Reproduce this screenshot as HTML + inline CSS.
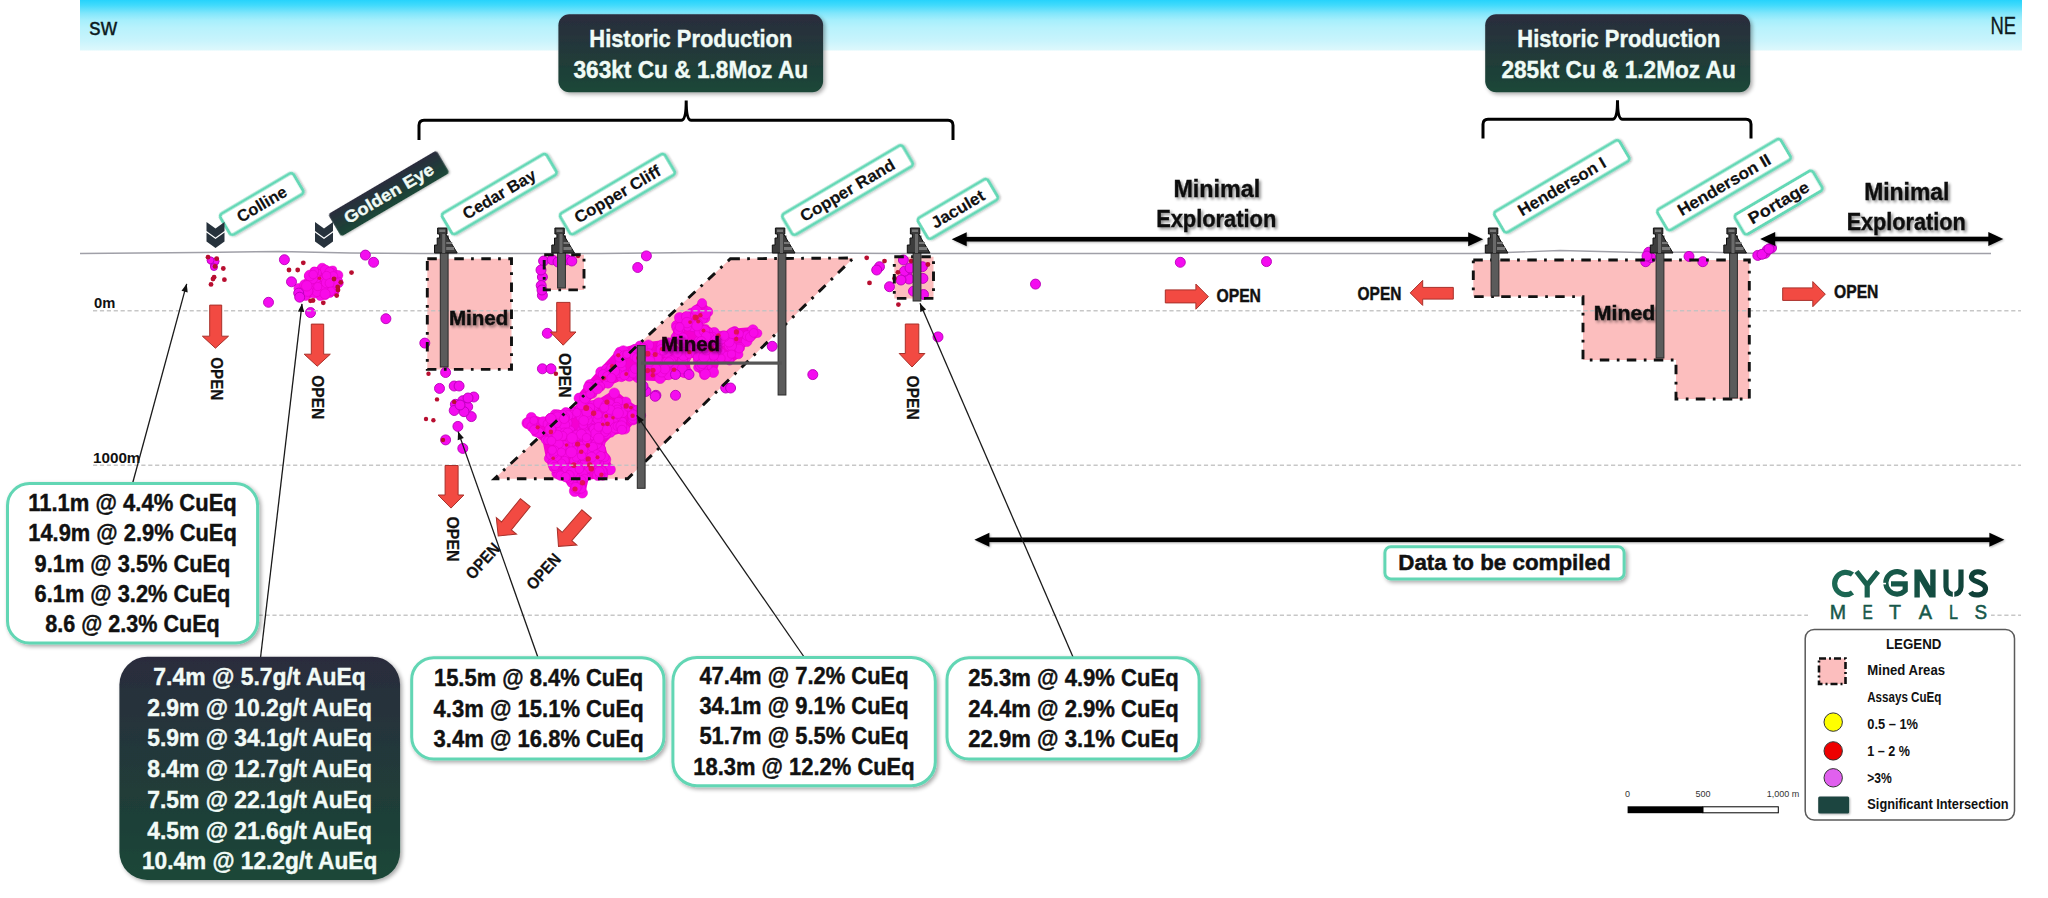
<!DOCTYPE html><html><head><meta charset="utf-8"><style>html,body{margin:0;padding:0;background:#fff;}svg{display:block;}text{font-family:"Liberation Sans",sans-serif;}</style></head><body>
<svg width="2048" height="898" viewBox="0 0 2048 898">
<defs>
<linearGradient id="sky" x1="0" y1="0" x2="0" y2="1">
 <stop offset="0" stop-color="#26d3fc"/><stop offset="0.1" stop-color="#40dafc"/><stop offset="0.26" stop-color="#80e6fb"/><stop offset="0.4" stop-color="#a6effc"/><stop offset="0.55" stop-color="#b8f2fc"/><stop offset="0.8" stop-color="#c8f4fc"/><stop offset="1" stop-color="#def8fc"/>
</linearGradient>
<linearGradient id="dark" x1="0" y1="0" x2="0" y2="1">
 <stop offset="0" stop-color="#2a2c3c"/><stop offset="1" stop-color="#1a4737"/>
</linearGradient>
<filter id="shadow" x="-10%" y="-10%" width="130%" height="140%">
 <feGaussianBlur in="SourceAlpha" stdDeviation="2"/><feOffset dx="1.5" dy="2" result="b"/>
 <feComponentTransfer><feFuncA type="linear" slope="0.35"/></feComponentTransfer>
 <feMerge><feMergeNode/><feMergeNode in="SourceGraphic"/></feMerge>
</filter>
<filter id="tshadow" x="-10%" y="-20%" width="130%" height="160%">
 <feGaussianBlur in="SourceAlpha" stdDeviation="1.5"/><feOffset dx="2" dy="2" result="b"/>
 <feComponentTransfer><feFuncA type="linear" slope="0.45"/></feComponentTransfer>
 <feMerge><feMergeNode/><feMergeNode in="SourceGraphic"/></feMerge>
</filter>
<filter id="glow" x="-20%" y="-40%" width="140%" height="180%">
 <feGaussianBlur in="SourceAlpha" stdDeviation="1.2"/><feOffset dx="0.5" dy="1" result="b"/>
 <feComponentTransfer><feFuncA type="linear" slope="0.3"/></feComponentTransfer>
 <feMerge><feMergeNode/><feMergeNode in="SourceGraphic"/></feMerge>
</filter>
</defs>
<rect x="80" y="0" width="1942" height="50.5" fill="url(#sky)"/>
<text x="103.2" y="34.8" font-size="23.48" font-weight="normal" fill="#0d1b22" text-anchor="middle" textLength="27.7" lengthAdjust="spacingAndGlyphs" stroke="#0d1b22" stroke-width="0.3">sw</text>
<text x="2003.3" y="34.4" font-size="23.26" font-weight="normal" fill="#0d1b22" text-anchor="middle" textLength="25.7" lengthAdjust="spacingAndGlyphs" stroke="#0d1b22" stroke-width="0.3">NE</text>
<rect x="558.4" y="14.2" width="264.7" height="78" rx="11" fill="url(#dark)" filter="url(#shadow)"/>
<text x="690.8" y="47.1" font-size="23.55" font-weight="bold" fill="#f0fbf6" text-anchor="middle" textLength="202.9" lengthAdjust="spacingAndGlyphs" stroke="#f0fbf6" stroke-width="0.4">Historic Production</text>
<text x="690.8" y="78.2" font-size="23.98" font-weight="bold" fill="#f0fbf6" text-anchor="middle" textLength="234.7" lengthAdjust="spacingAndGlyphs" stroke="#f0fbf6" stroke-width="0.4">363kt Cu &amp; 1.8Moz Au</text>
<rect x="1485.2" y="14.2" width="265.1" height="78" rx="11" fill="url(#dark)" filter="url(#shadow)"/>
<text x="1618.8" y="47.1" font-size="23.55" font-weight="bold" fill="#f0fbf6" text-anchor="middle" textLength="202.9" lengthAdjust="spacingAndGlyphs" stroke="#f0fbf6" stroke-width="0.4">Historic Production</text>
<text x="1618.6" y="78.2" font-size="23.98" font-weight="bold" fill="#f0fbf6" text-anchor="middle" textLength="234.3" lengthAdjust="spacingAndGlyphs" stroke="#f0fbf6" stroke-width="0.4">285kt Cu &amp; 1.2Moz Au</text>
<path d="M419,140 L419,125.3 Q419,120.3 424,120.3 L681.2,120.3 Q686.2,120.3 686.2,100.5 Q686.2,120.3 691.2,120.3 L948,120.3 Q953,120.3 953,125.3 L953,140" fill="none" stroke="#000" stroke-width="3"/>
<path d="M1483,138.5 L1483,124.3 Q1483,119.3 1488,119.3 L1612.5,119.3 Q1617.5,119.3 1617.5,100.3 Q1617.5,119.3 1622.5,119.3 L1746,119.3 Q1751,119.3 1751,124.3 L1751,138.5" fill="none" stroke="#000" stroke-width="3"/>
<text x="104.7" y="307.6" font-size="13.95" font-weight="bold" fill="#111" text-anchor="middle" textLength="21.3" lengthAdjust="spacingAndGlyphs" >0m</text>
<text x="116.7" y="463.0" font-size="14.53" font-weight="bold" fill="#111" text-anchor="middle" textLength="47.4" lengthAdjust="spacingAndGlyphs" >1000m</text>
<polyline points="80,253.5 200,252.5 280,251.5 350,253 420,253.5 600,253.5 700,252.5 900,253.5 1000,253.5 1400,253.5 1480,253.5 1560,250.5 1640,252.5 1700,252 1760,253.5 1991,253.5" fill="none" stroke="#a0a0a8" stroke-width="1.4"/>
<polygon points="427.3,258.7 511.5,258.7 511.5,369.4 427.3,369.4" fill="#fcbebe"/>
<polygon points="544.2,254.8 584.0,254.8 584.0,289.9 544.2,289.9" fill="#fcbebe"/>
<polygon points="730.4,258.8 853.4,258.0 627.6,478.8 494.5,478.8" fill="#fcbebe"/>
<polygon points="894.3,256.7 933.5,256.7 933.5,298.4 894.3,298.4" fill="#fcbebe"/>
<polygon points="1473.3,260.0 1749.3,260.0 1749.3,399.0 1676.0,399.0 1676.0,360.0 1583.0,360.0 1583.0,296.6 1473.3,296.6" fill="#fcbebe"/>
<polygon points="308.8,276.3 314.1,271.3 322.2,268.2 332.7,270.1 338.1,275.2 338.8,283.1 335.0,291.6 325.1,294.9 320.4,296.4 314.4,293.4 305.6,296.4 300.3,293.3 298.5,288.2 304.8,284.8 308.6,281.1" fill="#f400d2" stroke="#f400d2" stroke-width="6" stroke-linejoin="round"/>
<polygon points="554.9,414.3 571.7,411.3 586.0,403.7 597.1,403.5 614.3,393.1 625.6,402.5 637.2,409.9 641.1,415.5 633.0,419.5 624.8,429.0 610.8,432.9 600.9,443.2 605.7,457.9 610.0,469.5 602.7,475.1 586.0,476.9 582.3,492.9 574.8,491.0 571.2,481.1 556.3,473.6 549.1,458.6 545.5,440.1 535.5,432.6 527.4,423.1 531.3,417.4 543.3,421.5" fill="#f400d2" stroke="#f400d2" stroke-width="6" stroke-linejoin="round"/>
<polygon points="579.1,398.2 589.8,384.8 601.0,372.1 619.6,351.7 640.0,346.1 668.8,342.4 686.1,357.1 688.0,372.1 660.1,378.3 638.0,377.3 621.5,377.0 600.6,386.3 581.3,404.8" fill="#f400d2" stroke="#f400d2" stroke-width="6" stroke-linejoin="round"/>
<polygon points="676.4,325.5 679.6,317.6 691.1,312.4 702.1,303.2 707.7,311.9 704.7,317.8 697.5,324.3 705.4,328.6 714.3,332.3 722.4,335.2 734.7,331.4 752.9,329.9 757.7,333.3 746.7,341.2 739.6,347.7 738.6,354.4 729.6,360.8 717.4,358.9 713.3,372.2 704.4,374.8 697.8,367.6 697.3,355.9 689.4,354.1 683.4,344.3 675.5,338.1" fill="#f400d2" stroke="#f400d2" stroke-width="6" stroke-linejoin="round"/>
<circle cx="308.8" cy="276.3" r="4.5" fill="#f80ae8" stroke="#de00c0" stroke-width="0.5"/>
<circle cx="314.1" cy="271.3" r="4.2" fill="#f80ae8" stroke="#de00c0" stroke-width="0.5"/>
<circle cx="322.2" cy="268.2" r="5.0" fill="#f80ae8" stroke="#de00c0" stroke-width="0.5"/>
<circle cx="332.7" cy="270.1" r="4.1" fill="#f80ae8" stroke="#de00c0" stroke-width="0.5"/>
<circle cx="338.1" cy="275.2" r="4.8" fill="#f80ae8" stroke="#de00c0" stroke-width="0.5"/>
<circle cx="338.8" cy="283.1" r="4.5" fill="#f80ae8" stroke="#de00c0" stroke-width="0.5"/>
<circle cx="335.0" cy="291.6" r="4.1" fill="#f80ae8" stroke="#de00c0" stroke-width="0.5"/>
<circle cx="325.1" cy="294.9" r="4.8" fill="#f80ae8" stroke="#de00c0" stroke-width="0.5"/>
<circle cx="320.4" cy="296.4" r="4.1" fill="#f80ae8" stroke="#de00c0" stroke-width="0.5"/>
<circle cx="314.4" cy="293.4" r="4.7" fill="#f80ae8" stroke="#de00c0" stroke-width="0.5"/>
<circle cx="305.6" cy="296.4" r="4.1" fill="#f80ae8" stroke="#de00c0" stroke-width="0.5"/>
<circle cx="300.3" cy="293.3" r="4.1" fill="#f80ae8" stroke="#de00c0" stroke-width="0.5"/>
<circle cx="298.5" cy="288.2" r="4.6" fill="#f80ae8" stroke="#de00c0" stroke-width="0.5"/>
<circle cx="304.8" cy="284.8" r="5.2" fill="#f80ae8" stroke="#de00c0" stroke-width="0.5"/>
<circle cx="308.6" cy="281.1" r="4.2" fill="#f80ae8" stroke="#de00c0" stroke-width="0.5"/>
<circle cx="307.5" cy="285.9" r="4.9" fill="#f80ae8" stroke="#de00c0" stroke-width="0.5"/>
<circle cx="300.4" cy="292.4" r="4.2" fill="#f80ae8" stroke="#de00c0" stroke-width="0.5"/>
<circle cx="331.4" cy="273.3" r="5.0" fill="#f80ae8" stroke="#de00c0" stroke-width="0.5"/>
<circle cx="313.5" cy="283.7" r="4.1" fill="#f80ae8" stroke="#de00c0" stroke-width="0.5"/>
<circle cx="306.8" cy="287.4" r="4.5" fill="#f80ae8" stroke="#de00c0" stroke-width="0.5"/>
<circle cx="322.1" cy="281.0" r="5.2" fill="#f80ae8" stroke="#de00c0" stroke-width="0.5"/>
<circle cx="326.7" cy="275.1" r="4.8" fill="#f80ae8" stroke="#de00c0" stroke-width="0.5"/>
<circle cx="333.8" cy="288.8" r="5.5" fill="#f80ae8" stroke="#de00c0" stroke-width="0.5"/>
<circle cx="329.0" cy="272.5" r="4.1" fill="#f80ae8" stroke="#de00c0" stroke-width="0.5"/>
<circle cx="325.4" cy="289.8" r="5.3" fill="#f80ae8" stroke="#de00c0" stroke-width="0.5"/>
<circle cx="311.2" cy="287.8" r="4.9" fill="#f80ae8" stroke="#de00c0" stroke-width="0.5"/>
<circle cx="316.9" cy="291.9" r="4.7" fill="#f80ae8" stroke="#de00c0" stroke-width="0.5"/>
<circle cx="325.3" cy="270.0" r="5.0" fill="#f80ae8" stroke="#de00c0" stroke-width="0.5"/>
<circle cx="310.0" cy="279.1" r="4.0" fill="#f80ae8" stroke="#de00c0" stroke-width="0.5"/>
<circle cx="317.1" cy="273.0" r="4.1" fill="#f80ae8" stroke="#de00c0" stroke-width="0.5"/>
<circle cx="329.5" cy="271.9" r="4.6" fill="#f80ae8" stroke="#de00c0" stroke-width="0.5"/>
<circle cx="316.6" cy="283.7" r="5.2" fill="#f80ae8" stroke="#de00c0" stroke-width="0.5"/>
<circle cx="333.3" cy="276.1" r="4.5" fill="#f80ae8" stroke="#de00c0" stroke-width="0.5"/>
<circle cx="318.1" cy="284.8" r="4.0" fill="#f80ae8" stroke="#de00c0" stroke-width="0.5"/>
<circle cx="315.4" cy="278.6" r="5.4" fill="#f80ae8" stroke="#de00c0" stroke-width="0.5"/>
<circle cx="326.3" cy="282.8" r="5.0" fill="#f80ae8" stroke="#de00c0" stroke-width="0.5"/>
<circle cx="329.9" cy="292.9" r="4.6" fill="#f80ae8" stroke="#de00c0" stroke-width="0.5"/>
<circle cx="314.6" cy="271.2" r="4.1" fill="#f80ae8" stroke="#de00c0" stroke-width="0.5"/>
<circle cx="333.7" cy="285.5" r="4.4" fill="#f80ae8" stroke="#de00c0" stroke-width="0.5"/>
<circle cx="312.5" cy="278.5" r="5.3" fill="#f80ae8" stroke="#de00c0" stroke-width="0.5"/>
<circle cx="338.5" cy="281.4" r="4.1" fill="#f80ae8" stroke="#de00c0" stroke-width="0.5"/>
<circle cx="309.2" cy="291.6" r="4.0" fill="#f80ae8" stroke="#de00c0" stroke-width="0.5"/>
<circle cx="336.8" cy="283.1" r="4.8" fill="#f80ae8" stroke="#de00c0" stroke-width="0.5"/>
<circle cx="326.6" cy="275.6" r="4.3" fill="#f80ae8" stroke="#de00c0" stroke-width="0.5"/>
<circle cx="329.6" cy="283.2" r="4.5" fill="#f80ae8" stroke="#de00c0" stroke-width="0.5"/>
<circle cx="307.5" cy="291.1" r="5.3" fill="#f80ae8" stroke="#de00c0" stroke-width="0.5"/>
<circle cx="331.0" cy="291.3" r="4.3" fill="#f80ae8" stroke="#de00c0" stroke-width="0.5"/>
<circle cx="309.8" cy="275.5" r="5.4" fill="#f80ae8" stroke="#de00c0" stroke-width="0.5"/>
<circle cx="313.2" cy="274.5" r="4.3" fill="#f80ae8" stroke="#de00c0" stroke-width="0.5"/>
<circle cx="306.8" cy="285.8" r="5.3" fill="#f80ae8" stroke="#de00c0" stroke-width="0.5"/>
<circle cx="317.8" cy="286.6" r="4.1" fill="#f80ae8" stroke="#de00c0" stroke-width="0.5"/>
<circle cx="325.1" cy="293.9" r="5.1" fill="#f80ae8" stroke="#de00c0" stroke-width="0.5"/>
<circle cx="554.9" cy="414.3" r="4.7" fill="#f80ae8" stroke="#de00c0" stroke-width="0.5"/>
<circle cx="571.7" cy="411.3" r="4.3" fill="#f80ae8" stroke="#de00c0" stroke-width="0.5"/>
<circle cx="586.0" cy="403.7" r="5.2" fill="#f80ae8" stroke="#de00c0" stroke-width="0.5"/>
<circle cx="597.1" cy="403.5" r="4.5" fill="#f80ae8" stroke="#de00c0" stroke-width="0.5"/>
<circle cx="614.3" cy="393.1" r="5.2" fill="#f80ae8" stroke="#de00c0" stroke-width="0.5"/>
<circle cx="625.6" cy="402.5" r="5.5" fill="#f80ae8" stroke="#de00c0" stroke-width="0.5"/>
<circle cx="637.2" cy="409.9" r="4.6" fill="#f80ae8" stroke="#de00c0" stroke-width="0.5"/>
<circle cx="641.1" cy="415.5" r="4.6" fill="#f80ae8" stroke="#de00c0" stroke-width="0.5"/>
<circle cx="633.0" cy="419.5" r="5.4" fill="#f80ae8" stroke="#de00c0" stroke-width="0.5"/>
<circle cx="624.8" cy="429.0" r="5.1" fill="#f80ae8" stroke="#de00c0" stroke-width="0.5"/>
<circle cx="610.8" cy="432.9" r="4.3" fill="#f80ae8" stroke="#de00c0" stroke-width="0.5"/>
<circle cx="600.9" cy="443.2" r="4.2" fill="#f80ae8" stroke="#de00c0" stroke-width="0.5"/>
<circle cx="605.7" cy="457.9" r="4.2" fill="#f80ae8" stroke="#de00c0" stroke-width="0.5"/>
<circle cx="610.0" cy="469.5" r="5.4" fill="#f80ae8" stroke="#de00c0" stroke-width="0.5"/>
<circle cx="602.7" cy="475.1" r="5.2" fill="#f80ae8" stroke="#de00c0" stroke-width="0.5"/>
<circle cx="586.0" cy="476.9" r="4.2" fill="#f80ae8" stroke="#de00c0" stroke-width="0.5"/>
<circle cx="582.3" cy="492.9" r="5.2" fill="#f80ae8" stroke="#de00c0" stroke-width="0.5"/>
<circle cx="574.8" cy="491.0" r="5.5" fill="#f80ae8" stroke="#de00c0" stroke-width="0.5"/>
<circle cx="571.2" cy="481.1" r="5.0" fill="#f80ae8" stroke="#de00c0" stroke-width="0.5"/>
<circle cx="556.3" cy="473.6" r="4.5" fill="#f80ae8" stroke="#de00c0" stroke-width="0.5"/>
<circle cx="549.1" cy="458.6" r="4.8" fill="#f80ae8" stroke="#de00c0" stroke-width="0.5"/>
<circle cx="545.5" cy="440.1" r="4.2" fill="#f80ae8" stroke="#de00c0" stroke-width="0.5"/>
<circle cx="535.5" cy="432.6" r="4.0" fill="#f80ae8" stroke="#de00c0" stroke-width="0.5"/>
<circle cx="527.4" cy="423.1" r="5.5" fill="#f80ae8" stroke="#de00c0" stroke-width="0.5"/>
<circle cx="531.3" cy="417.4" r="5.0" fill="#f80ae8" stroke="#de00c0" stroke-width="0.5"/>
<circle cx="543.3" cy="421.5" r="4.8" fill="#f80ae8" stroke="#de00c0" stroke-width="0.5"/>
<circle cx="551.4" cy="418.3" r="4.4" fill="#f80ae8" stroke="#de00c0" stroke-width="0.5"/>
<circle cx="594.0" cy="419.0" r="4.2" fill="#f80ae8" stroke="#de00c0" stroke-width="0.5"/>
<circle cx="579.5" cy="451.3" r="4.6" fill="#f80ae8" stroke="#de00c0" stroke-width="0.5"/>
<circle cx="618.2" cy="410.3" r="5.1" fill="#f80ae8" stroke="#de00c0" stroke-width="0.5"/>
<circle cx="590.6" cy="425.7" r="4.8" fill="#f80ae8" stroke="#de00c0" stroke-width="0.5"/>
<circle cx="616.5" cy="403.7" r="4.4" fill="#f80ae8" stroke="#de00c0" stroke-width="0.5"/>
<circle cx="558.9" cy="470.2" r="4.8" fill="#f80ae8" stroke="#de00c0" stroke-width="0.5"/>
<circle cx="577.8" cy="454.3" r="4.8" fill="#f80ae8" stroke="#de00c0" stroke-width="0.5"/>
<circle cx="588.0" cy="440.8" r="5.0" fill="#f80ae8" stroke="#de00c0" stroke-width="0.5"/>
<circle cx="556.9" cy="449.0" r="5.3" fill="#f80ae8" stroke="#de00c0" stroke-width="0.5"/>
<circle cx="603.5" cy="471.4" r="4.2" fill="#f80ae8" stroke="#de00c0" stroke-width="0.5"/>
<circle cx="637.4" cy="415.1" r="4.6" fill="#f80ae8" stroke="#de00c0" stroke-width="0.5"/>
<circle cx="622.0" cy="409.3" r="4.8" fill="#f80ae8" stroke="#de00c0" stroke-width="0.5"/>
<circle cx="565.9" cy="412.7" r="5.1" fill="#f80ae8" stroke="#de00c0" stroke-width="0.5"/>
<circle cx="565.1" cy="455.4" r="4.1" fill="#f80ae8" stroke="#de00c0" stroke-width="0.5"/>
<circle cx="615.9" cy="420.1" r="4.6" fill="#f80ae8" stroke="#de00c0" stroke-width="0.5"/>
<circle cx="618.5" cy="401.5" r="4.1" fill="#f80ae8" stroke="#de00c0" stroke-width="0.5"/>
<circle cx="565.9" cy="448.3" r="4.4" fill="#f80ae8" stroke="#de00c0" stroke-width="0.5"/>
<circle cx="550.3" cy="424.3" r="5.1" fill="#f80ae8" stroke="#de00c0" stroke-width="0.5"/>
<circle cx="560.3" cy="443.0" r="4.5" fill="#f80ae8" stroke="#de00c0" stroke-width="0.5"/>
<circle cx="590.0" cy="412.0" r="5.4" fill="#f80ae8" stroke="#de00c0" stroke-width="0.5"/>
<circle cx="576.5" cy="442.5" r="4.6" fill="#f80ae8" stroke="#de00c0" stroke-width="0.5"/>
<circle cx="585.0" cy="461.8" r="4.5" fill="#f80ae8" stroke="#de00c0" stroke-width="0.5"/>
<circle cx="599.7" cy="433.5" r="4.1" fill="#f80ae8" stroke="#de00c0" stroke-width="0.5"/>
<circle cx="611.6" cy="418.6" r="4.1" fill="#f80ae8" stroke="#de00c0" stroke-width="0.5"/>
<circle cx="603.6" cy="421.3" r="4.4" fill="#f80ae8" stroke="#de00c0" stroke-width="0.5"/>
<circle cx="579.6" cy="408.9" r="4.4" fill="#f80ae8" stroke="#de00c0" stroke-width="0.5"/>
<circle cx="589.6" cy="417.5" r="4.5" fill="#f80ae8" stroke="#de00c0" stroke-width="0.5"/>
<circle cx="570.8" cy="440.5" r="4.3" fill="#f80ae8" stroke="#de00c0" stroke-width="0.5"/>
<circle cx="529.9" cy="423.5" r="4.9" fill="#f80ae8" stroke="#de00c0" stroke-width="0.5"/>
<circle cx="587.5" cy="468.0" r="5.1" fill="#f80ae8" stroke="#de00c0" stroke-width="0.5"/>
<circle cx="598.7" cy="466.4" r="4.2" fill="#f80ae8" stroke="#de00c0" stroke-width="0.5"/>
<circle cx="586.9" cy="443.5" r="5.2" fill="#f80ae8" stroke="#de00c0" stroke-width="0.5"/>
<circle cx="598.7" cy="455.6" r="4.7" fill="#f80ae8" stroke="#de00c0" stroke-width="0.5"/>
<circle cx="557.6" cy="465.9" r="5.1" fill="#f80ae8" stroke="#de00c0" stroke-width="0.5"/>
<circle cx="570.9" cy="440.9" r="5.2" fill="#f80ae8" stroke="#de00c0" stroke-width="0.5"/>
<circle cx="556.3" cy="467.3" r="4.9" fill="#f80ae8" stroke="#de00c0" stroke-width="0.5"/>
<circle cx="557.9" cy="460.2" r="5.0" fill="#f80ae8" stroke="#de00c0" stroke-width="0.5"/>
<circle cx="560.4" cy="444.7" r="4.7" fill="#f80ae8" stroke="#de00c0" stroke-width="0.5"/>
<circle cx="579.6" cy="474.9" r="4.7" fill="#f80ae8" stroke="#de00c0" stroke-width="0.5"/>
<circle cx="557.9" cy="414.1" r="4.3" fill="#f80ae8" stroke="#de00c0" stroke-width="0.5"/>
<circle cx="593.5" cy="407.3" r="5.4" fill="#f80ae8" stroke="#de00c0" stroke-width="0.5"/>
<circle cx="607.3" cy="416.2" r="4.7" fill="#f80ae8" stroke="#de00c0" stroke-width="0.5"/>
<circle cx="583.3" cy="438.1" r="4.2" fill="#f80ae8" stroke="#de00c0" stroke-width="0.5"/>
<circle cx="566.5" cy="424.7" r="4.0" fill="#f80ae8" stroke="#de00c0" stroke-width="0.5"/>
<circle cx="560.3" cy="430.3" r="5.5" fill="#f80ae8" stroke="#de00c0" stroke-width="0.5"/>
<circle cx="594.4" cy="429.1" r="4.4" fill="#f80ae8" stroke="#de00c0" stroke-width="0.5"/>
<circle cx="622.3" cy="421.6" r="4.4" fill="#f80ae8" stroke="#de00c0" stroke-width="0.5"/>
<circle cx="557.6" cy="444.1" r="4.6" fill="#f80ae8" stroke="#de00c0" stroke-width="0.5"/>
<circle cx="578.6" cy="468.2" r="4.4" fill="#f80ae8" stroke="#de00c0" stroke-width="0.5"/>
<circle cx="566.5" cy="422.9" r="5.5" fill="#f80ae8" stroke="#de00c0" stroke-width="0.5"/>
<circle cx="557.0" cy="458.6" r="4.8" fill="#f80ae8" stroke="#de00c0" stroke-width="0.5"/>
<circle cx="556.8" cy="450.0" r="5.1" fill="#f80ae8" stroke="#de00c0" stroke-width="0.5"/>
<circle cx="574.3" cy="434.4" r="4.6" fill="#f80ae8" stroke="#de00c0" stroke-width="0.5"/>
<circle cx="551.9" cy="420.2" r="4.6" fill="#f80ae8" stroke="#de00c0" stroke-width="0.5"/>
<circle cx="578.1" cy="488.3" r="5.3" fill="#f80ae8" stroke="#de00c0" stroke-width="0.5"/>
<circle cx="616.3" cy="416.3" r="5.0" fill="#f80ae8" stroke="#de00c0" stroke-width="0.5"/>
<circle cx="556.0" cy="456.6" r="4.2" fill="#f80ae8" stroke="#de00c0" stroke-width="0.5"/>
<circle cx="593.6" cy="431.9" r="4.9" fill="#f80ae8" stroke="#de00c0" stroke-width="0.5"/>
<circle cx="528.6" cy="423.2" r="5.4" fill="#f80ae8" stroke="#de00c0" stroke-width="0.5"/>
<circle cx="581.4" cy="416.6" r="5.4" fill="#f80ae8" stroke="#de00c0" stroke-width="0.5"/>
<circle cx="604.1" cy="435.0" r="5.0" fill="#f80ae8" stroke="#de00c0" stroke-width="0.5"/>
<circle cx="575.2" cy="461.2" r="5.2" fill="#f80ae8" stroke="#de00c0" stroke-width="0.5"/>
<circle cx="562.8" cy="474.9" r="4.3" fill="#f80ae8" stroke="#de00c0" stroke-width="0.5"/>
<circle cx="613.8" cy="422.6" r="4.7" fill="#f80ae8" stroke="#de00c0" stroke-width="0.5"/>
<circle cx="574.8" cy="459.5" r="4.2" fill="#f80ae8" stroke="#de00c0" stroke-width="0.5"/>
<circle cx="572.1" cy="414.4" r="4.2" fill="#f80ae8" stroke="#de00c0" stroke-width="0.5"/>
<circle cx="572.1" cy="482.7" r="5.1" fill="#f80ae8" stroke="#de00c0" stroke-width="0.5"/>
<circle cx="570.4" cy="430.4" r="4.3" fill="#f80ae8" stroke="#de00c0" stroke-width="0.5"/>
<circle cx="551.0" cy="428.7" r="5.2" fill="#f80ae8" stroke="#de00c0" stroke-width="0.5"/>
<circle cx="581.2" cy="430.3" r="4.3" fill="#f80ae8" stroke="#de00c0" stroke-width="0.5"/>
<circle cx="556.6" cy="467.7" r="4.5" fill="#f80ae8" stroke="#de00c0" stroke-width="0.5"/>
<circle cx="597.5" cy="419.3" r="4.5" fill="#f80ae8" stroke="#de00c0" stroke-width="0.5"/>
<circle cx="581.4" cy="488.6" r="4.6" fill="#f80ae8" stroke="#de00c0" stroke-width="0.5"/>
<circle cx="555.9" cy="436.0" r="5.4" fill="#f80ae8" stroke="#de00c0" stroke-width="0.5"/>
<circle cx="564.6" cy="425.0" r="5.2" fill="#f80ae8" stroke="#de00c0" stroke-width="0.5"/>
<circle cx="590.2" cy="425.6" r="5.3" fill="#f80ae8" stroke="#de00c0" stroke-width="0.5"/>
<circle cx="584.0" cy="464.0" r="4.4" fill="#f80ae8" stroke="#de00c0" stroke-width="0.5"/>
<circle cx="574.8" cy="455.0" r="5.1" fill="#f80ae8" stroke="#de00c0" stroke-width="0.5"/>
<circle cx="560.8" cy="449.7" r="5.1" fill="#f80ae8" stroke="#de00c0" stroke-width="0.5"/>
<circle cx="550.0" cy="417.8" r="4.2" fill="#f80ae8" stroke="#de00c0" stroke-width="0.5"/>
<circle cx="564.5" cy="432.7" r="4.8" fill="#f80ae8" stroke="#de00c0" stroke-width="0.5"/>
<circle cx="569.7" cy="479.6" r="4.4" fill="#f80ae8" stroke="#de00c0" stroke-width="0.5"/>
<circle cx="597.9" cy="414.9" r="4.2" fill="#f80ae8" stroke="#de00c0" stroke-width="0.5"/>
<circle cx="550.6" cy="418.6" r="5.0" fill="#f80ae8" stroke="#de00c0" stroke-width="0.5"/>
<circle cx="564.6" cy="460.8" r="4.5" fill="#f80ae8" stroke="#de00c0" stroke-width="0.5"/>
<circle cx="538.9" cy="432.6" r="5.0" fill="#f80ae8" stroke="#de00c0" stroke-width="0.5"/>
<circle cx="606.4" cy="434.0" r="4.5" fill="#f80ae8" stroke="#de00c0" stroke-width="0.5"/>
<circle cx="591.8" cy="428.8" r="5.3" fill="#f80ae8" stroke="#de00c0" stroke-width="0.5"/>
<circle cx="590.1" cy="457.1" r="4.1" fill="#f80ae8" stroke="#de00c0" stroke-width="0.5"/>
<circle cx="598.1" cy="430.1" r="4.2" fill="#f80ae8" stroke="#de00c0" stroke-width="0.5"/>
<circle cx="559.6" cy="445.1" r="4.2" fill="#f80ae8" stroke="#de00c0" stroke-width="0.5"/>
<circle cx="583.1" cy="473.4" r="4.3" fill="#f80ae8" stroke="#de00c0" stroke-width="0.5"/>
<circle cx="597.9" cy="475.4" r="5.2" fill="#f80ae8" stroke="#de00c0" stroke-width="0.5"/>
<circle cx="552.6" cy="433.5" r="5.2" fill="#f80ae8" stroke="#de00c0" stroke-width="0.5"/>
<circle cx="572.8" cy="444.8" r="4.2" fill="#f80ae8" stroke="#de00c0" stroke-width="0.5"/>
<circle cx="555.5" cy="465.5" r="4.1" fill="#f80ae8" stroke="#de00c0" stroke-width="0.5"/>
<circle cx="589.9" cy="455.7" r="4.6" fill="#f80ae8" stroke="#de00c0" stroke-width="0.5"/>
<circle cx="593.6" cy="435.6" r="4.7" fill="#f80ae8" stroke="#de00c0" stroke-width="0.5"/>
<circle cx="597.7" cy="442.0" r="5.1" fill="#f80ae8" stroke="#de00c0" stroke-width="0.5"/>
<circle cx="547.8" cy="440.4" r="4.2" fill="#f80ae8" stroke="#de00c0" stroke-width="0.5"/>
<circle cx="620.0" cy="412.5" r="4.7" fill="#f80ae8" stroke="#de00c0" stroke-width="0.5"/>
<circle cx="567.3" cy="468.6" r="5.3" fill="#f80ae8" stroke="#de00c0" stroke-width="0.5"/>
<circle cx="558.6" cy="474.5" r="4.8" fill="#f80ae8" stroke="#de00c0" stroke-width="0.5"/>
<circle cx="632.0" cy="413.9" r="4.8" fill="#f80ae8" stroke="#de00c0" stroke-width="0.5"/>
<circle cx="629.2" cy="410.0" r="4.2" fill="#f80ae8" stroke="#de00c0" stroke-width="0.5"/>
<circle cx="587.7" cy="456.6" r="5.3" fill="#f80ae8" stroke="#de00c0" stroke-width="0.5"/>
<circle cx="590.5" cy="451.0" r="4.2" fill="#f80ae8" stroke="#de00c0" stroke-width="0.5"/>
<circle cx="572.2" cy="472.7" r="5.5" fill="#f80ae8" stroke="#de00c0" stroke-width="0.5"/>
<circle cx="593.0" cy="429.1" r="4.7" fill="#f80ae8" stroke="#de00c0" stroke-width="0.5"/>
<circle cx="556.2" cy="456.9" r="4.9" fill="#f80ae8" stroke="#de00c0" stroke-width="0.5"/>
<circle cx="576.5" cy="444.3" r="4.2" fill="#f80ae8" stroke="#de00c0" stroke-width="0.5"/>
<circle cx="568.0" cy="415.5" r="4.9" fill="#f80ae8" stroke="#de00c0" stroke-width="0.5"/>
<circle cx="550.6" cy="455.4" r="4.2" fill="#f80ae8" stroke="#de00c0" stroke-width="0.5"/>
<circle cx="633.8" cy="417.4" r="4.1" fill="#f80ae8" stroke="#de00c0" stroke-width="0.5"/>
<circle cx="600.7" cy="449.2" r="5.0" fill="#f80ae8" stroke="#de00c0" stroke-width="0.5"/>
<circle cx="577.8" cy="486.6" r="4.4" fill="#f80ae8" stroke="#de00c0" stroke-width="0.5"/>
<circle cx="587.8" cy="433.6" r="4.1" fill="#f80ae8" stroke="#de00c0" stroke-width="0.5"/>
<circle cx="596.5" cy="443.7" r="5.2" fill="#f80ae8" stroke="#de00c0" stroke-width="0.5"/>
<circle cx="547.2" cy="424.0" r="4.1" fill="#f80ae8" stroke="#de00c0" stroke-width="0.5"/>
<circle cx="580.3" cy="467.1" r="4.3" fill="#f80ae8" stroke="#de00c0" stroke-width="0.5"/>
<circle cx="531.8" cy="426.6" r="5.0" fill="#f80ae8" stroke="#de00c0" stroke-width="0.5"/>
<circle cx="557.6" cy="448.4" r="5.2" fill="#f80ae8" stroke="#de00c0" stroke-width="0.5"/>
<circle cx="586.9" cy="419.6" r="5.4" fill="#f80ae8" stroke="#de00c0" stroke-width="0.5"/>
<circle cx="554.2" cy="467.4" r="5.1" fill="#f80ae8" stroke="#de00c0" stroke-width="0.5"/>
<circle cx="564.7" cy="417.0" r="4.9" fill="#f80ae8" stroke="#de00c0" stroke-width="0.5"/>
<circle cx="606.1" cy="459.5" r="4.7" fill="#f80ae8" stroke="#de00c0" stroke-width="0.5"/>
<circle cx="562.4" cy="414.3" r="4.1" fill="#f80ae8" stroke="#de00c0" stroke-width="0.5"/>
<circle cx="599.4" cy="462.7" r="4.1" fill="#f80ae8" stroke="#de00c0" stroke-width="0.5"/>
<circle cx="594.5" cy="429.4" r="5.2" fill="#f80ae8" stroke="#de00c0" stroke-width="0.5"/>
<circle cx="550.7" cy="425.0" r="4.0" fill="#f80ae8" stroke="#de00c0" stroke-width="0.5"/>
<circle cx="556.6" cy="421.3" r="4.6" fill="#f80ae8" stroke="#de00c0" stroke-width="0.5"/>
<circle cx="584.6" cy="478.1" r="4.0" fill="#f80ae8" stroke="#de00c0" stroke-width="0.5"/>
<circle cx="574.3" cy="436.7" r="4.5" fill="#f80ae8" stroke="#de00c0" stroke-width="0.5"/>
<circle cx="583.2" cy="442.2" r="4.3" fill="#f80ae8" stroke="#de00c0" stroke-width="0.5"/>
<circle cx="583.6" cy="427.8" r="4.4" fill="#f80ae8" stroke="#de00c0" stroke-width="0.5"/>
<circle cx="551.8" cy="462.9" r="4.2" fill="#f80ae8" stroke="#de00c0" stroke-width="0.5"/>
<circle cx="567.8" cy="433.2" r="5.3" fill="#f80ae8" stroke="#de00c0" stroke-width="0.5"/>
<circle cx="584.4" cy="431.0" r="4.4" fill="#f80ae8" stroke="#de00c0" stroke-width="0.5"/>
<circle cx="579.8" cy="446.2" r="5.1" fill="#f80ae8" stroke="#de00c0" stroke-width="0.5"/>
<circle cx="600.9" cy="427.9" r="4.2" fill="#f80ae8" stroke="#de00c0" stroke-width="0.5"/>
<circle cx="611.7" cy="410.1" r="5.2" fill="#f80ae8" stroke="#de00c0" stroke-width="0.5"/>
<circle cx="593.2" cy="405.7" r="5.3" fill="#f80ae8" stroke="#de00c0" stroke-width="0.5"/>
<circle cx="561.7" cy="463.3" r="4.2" fill="#f80ae8" stroke="#de00c0" stroke-width="0.5"/>
<circle cx="564.5" cy="445.2" r="4.5" fill="#f80ae8" stroke="#de00c0" stroke-width="0.5"/>
<circle cx="610.2" cy="403.3" r="4.2" fill="#f80ae8" stroke="#de00c0" stroke-width="0.5"/>
<circle cx="576.8" cy="412.7" r="4.2" fill="#f80ae8" stroke="#de00c0" stroke-width="0.5"/>
<circle cx="584.3" cy="456.2" r="4.2" fill="#f80ae8" stroke="#de00c0" stroke-width="0.5"/>
<circle cx="596.0" cy="433.5" r="5.4" fill="#f80ae8" stroke="#de00c0" stroke-width="0.5"/>
<circle cx="576.3" cy="450.4" r="4.6" fill="#f80ae8" stroke="#de00c0" stroke-width="0.5"/>
<circle cx="553.4" cy="465.2" r="5.2" fill="#f80ae8" stroke="#de00c0" stroke-width="0.5"/>
<circle cx="604.6" cy="457.1" r="4.5" fill="#f80ae8" stroke="#de00c0" stroke-width="0.5"/>
<circle cx="598.8" cy="402.9" r="5.2" fill="#f80ae8" stroke="#de00c0" stroke-width="0.5"/>
<circle cx="555.8" cy="435.4" r="4.9" fill="#f80ae8" stroke="#de00c0" stroke-width="0.5"/>
<circle cx="573.9" cy="460.5" r="4.3" fill="#f80ae8" stroke="#de00c0" stroke-width="0.5"/>
<circle cx="601.8" cy="470.8" r="4.7" fill="#f80ae8" stroke="#de00c0" stroke-width="0.5"/>
<circle cx="589.2" cy="409.2" r="5.4" fill="#f80ae8" stroke="#de00c0" stroke-width="0.5"/>
<circle cx="592.7" cy="447.1" r="4.8" fill="#f80ae8" stroke="#de00c0" stroke-width="0.5"/>
<circle cx="586.7" cy="434.1" r="4.3" fill="#f80ae8" stroke="#de00c0" stroke-width="0.5"/>
<circle cx="605.2" cy="432.3" r="4.2" fill="#f80ae8" stroke="#de00c0" stroke-width="0.5"/>
<circle cx="533.8" cy="420.5" r="4.0" fill="#f80ae8" stroke="#de00c0" stroke-width="0.5"/>
<circle cx="575.0" cy="435.1" r="4.5" fill="#f80ae8" stroke="#de00c0" stroke-width="0.5"/>
<circle cx="557.5" cy="415.5" r="5.4" fill="#f80ae8" stroke="#de00c0" stroke-width="0.5"/>
<circle cx="587.3" cy="415.0" r="4.6" fill="#f80ae8" stroke="#de00c0" stroke-width="0.5"/>
<circle cx="599.5" cy="439.9" r="4.3" fill="#f80ae8" stroke="#de00c0" stroke-width="0.5"/>
<circle cx="600.0" cy="474.8" r="4.7" fill="#f80ae8" stroke="#de00c0" stroke-width="0.5"/>
<circle cx="560.8" cy="447.8" r="5.3" fill="#f80ae8" stroke="#de00c0" stroke-width="0.5"/>
<circle cx="567.7" cy="478.0" r="4.6" fill="#f80ae8" stroke="#de00c0" stroke-width="0.5"/>
<circle cx="556.2" cy="435.7" r="4.0" fill="#f80ae8" stroke="#de00c0" stroke-width="0.5"/>
<circle cx="609.4" cy="421.2" r="4.5" fill="#f80ae8" stroke="#de00c0" stroke-width="0.5"/>
<circle cx="581.9" cy="435.9" r="5.0" fill="#f80ae8" stroke="#de00c0" stroke-width="0.5"/>
<circle cx="616.5" cy="407.2" r="4.9" fill="#f80ae8" stroke="#de00c0" stroke-width="0.5"/>
<circle cx="615.6" cy="427.7" r="5.4" fill="#f80ae8" stroke="#de00c0" stroke-width="0.5"/>
<circle cx="617.4" cy="409.9" r="4.9" fill="#f80ae8" stroke="#de00c0" stroke-width="0.5"/>
<circle cx="622.7" cy="412.8" r="4.8" fill="#f80ae8" stroke="#de00c0" stroke-width="0.5"/>
<circle cx="557.5" cy="416.5" r="4.7" fill="#f80ae8" stroke="#de00c0" stroke-width="0.5"/>
<circle cx="584.0" cy="447.0" r="4.0" fill="#f80ae8" stroke="#de00c0" stroke-width="0.5"/>
<circle cx="591.3" cy="459.5" r="4.6" fill="#f80ae8" stroke="#de00c0" stroke-width="0.5"/>
<circle cx="596.7" cy="461.2" r="4.5" fill="#f80ae8" stroke="#de00c0" stroke-width="0.5"/>
<circle cx="598.5" cy="426.9" r="4.5" fill="#f80ae8" stroke="#de00c0" stroke-width="0.5"/>
<circle cx="581.3" cy="445.6" r="4.3" fill="#f80ae8" stroke="#de00c0" stroke-width="0.5"/>
<circle cx="576.9" cy="435.3" r="5.2" fill="#f80ae8" stroke="#de00c0" stroke-width="0.5"/>
<circle cx="560.7" cy="475.7" r="4.8" fill="#f80ae8" stroke="#de00c0" stroke-width="0.5"/>
<circle cx="558.3" cy="443.7" r="5.0" fill="#f80ae8" stroke="#de00c0" stroke-width="0.5"/>
<circle cx="617.4" cy="426.2" r="4.4" fill="#f80ae8" stroke="#de00c0" stroke-width="0.5"/>
<circle cx="594.0" cy="456.5" r="4.1" fill="#f80ae8" stroke="#de00c0" stroke-width="0.5"/>
<circle cx="596.6" cy="458.8" r="5.4" fill="#f80ae8" stroke="#de00c0" stroke-width="0.5"/>
<circle cx="596.9" cy="454.7" r="5.0" fill="#f80ae8" stroke="#de00c0" stroke-width="0.5"/>
<circle cx="595.2" cy="461.1" r="5.0" fill="#f80ae8" stroke="#de00c0" stroke-width="0.5"/>
<circle cx="579.4" cy="469.2" r="4.3" fill="#f80ae8" stroke="#de00c0" stroke-width="0.5"/>
<circle cx="569.3" cy="475.2" r="4.8" fill="#f80ae8" stroke="#de00c0" stroke-width="0.5"/>
<circle cx="556.7" cy="423.3" r="4.5" fill="#f80ae8" stroke="#de00c0" stroke-width="0.5"/>
<circle cx="576.3" cy="457.2" r="4.1" fill="#f80ae8" stroke="#de00c0" stroke-width="0.5"/>
<circle cx="571.4" cy="452.2" r="5.5" fill="#f80ae8" stroke="#de00c0" stroke-width="0.5"/>
<circle cx="581.4" cy="434.3" r="5.0" fill="#f80ae8" stroke="#de00c0" stroke-width="0.5"/>
<circle cx="605.1" cy="405.3" r="4.1" fill="#f80ae8" stroke="#de00c0" stroke-width="0.5"/>
<circle cx="554.9" cy="466.3" r="4.1" fill="#f80ae8" stroke="#de00c0" stroke-width="0.5"/>
<circle cx="633.4" cy="418.5" r="5.1" fill="#f80ae8" stroke="#de00c0" stroke-width="0.5"/>
<circle cx="610.3" cy="409.7" r="4.7" fill="#f80ae8" stroke="#de00c0" stroke-width="0.5"/>
<circle cx="534.2" cy="429.8" r="4.7" fill="#f80ae8" stroke="#de00c0" stroke-width="0.5"/>
<circle cx="604.3" cy="407.6" r="4.5" fill="#f80ae8" stroke="#de00c0" stroke-width="0.5"/>
<circle cx="600.7" cy="456.0" r="4.6" fill="#f80ae8" stroke="#de00c0" stroke-width="0.5"/>
<circle cx="621.4" cy="426.3" r="5.5" fill="#f80ae8" stroke="#de00c0" stroke-width="0.5"/>
<circle cx="562.5" cy="435.9" r="4.6" fill="#f80ae8" stroke="#de00c0" stroke-width="0.5"/>
<circle cx="557.3" cy="435.3" r="5.2" fill="#f80ae8" stroke="#de00c0" stroke-width="0.5"/>
<circle cx="618.0" cy="413.1" r="5.4" fill="#f80ae8" stroke="#de00c0" stroke-width="0.5"/>
<circle cx="554.0" cy="453.7" r="4.7" fill="#f80ae8" stroke="#de00c0" stroke-width="0.5"/>
<circle cx="550.9" cy="418.6" r="5.2" fill="#f80ae8" stroke="#de00c0" stroke-width="0.5"/>
<circle cx="553.9" cy="451.0" r="5.3" fill="#f80ae8" stroke="#de00c0" stroke-width="0.5"/>
<circle cx="586.7" cy="440.7" r="4.3" fill="#f80ae8" stroke="#de00c0" stroke-width="0.5"/>
<circle cx="607.1" cy="429.3" r="4.6" fill="#f80ae8" stroke="#de00c0" stroke-width="0.5"/>
<circle cx="599.3" cy="471.7" r="4.9" fill="#f80ae8" stroke="#de00c0" stroke-width="0.5"/>
<circle cx="582.7" cy="449.7" r="5.2" fill="#f80ae8" stroke="#de00c0" stroke-width="0.5"/>
<circle cx="575.8" cy="487.6" r="5.2" fill="#f80ae8" stroke="#de00c0" stroke-width="0.5"/>
<circle cx="591.6" cy="457.1" r="5.0" fill="#f80ae8" stroke="#de00c0" stroke-width="0.5"/>
<circle cx="572.1" cy="437.9" r="5.4" fill="#f80ae8" stroke="#de00c0" stroke-width="0.5"/>
<circle cx="561.4" cy="452.2" r="4.2" fill="#f80ae8" stroke="#de00c0" stroke-width="0.5"/>
<circle cx="564.2" cy="418.8" r="4.7" fill="#f80ae8" stroke="#de00c0" stroke-width="0.5"/>
<circle cx="632.8" cy="415.1" r="5.3" fill="#f80ae8" stroke="#de00c0" stroke-width="0.5"/>
<circle cx="628.4" cy="407.1" r="4.1" fill="#f80ae8" stroke="#de00c0" stroke-width="0.5"/>
<circle cx="598.8" cy="438.3" r="5.2" fill="#f80ae8" stroke="#de00c0" stroke-width="0.5"/>
<circle cx="581.7" cy="455.8" r="4.3" fill="#f80ae8" stroke="#de00c0" stroke-width="0.5"/>
<circle cx="590.3" cy="407.6" r="4.4" fill="#f80ae8" stroke="#de00c0" stroke-width="0.5"/>
<circle cx="583.2" cy="424.9" r="4.2" fill="#f80ae8" stroke="#de00c0" stroke-width="0.5"/>
<circle cx="551.4" cy="440.8" r="4.4" fill="#f80ae8" stroke="#de00c0" stroke-width="0.5"/>
<circle cx="550.3" cy="429.5" r="5.5" fill="#f80ae8" stroke="#de00c0" stroke-width="0.5"/>
<circle cx="587.2" cy="411.7" r="5.4" fill="#f80ae8" stroke="#de00c0" stroke-width="0.5"/>
<circle cx="552.2" cy="450.1" r="4.3" fill="#f80ae8" stroke="#de00c0" stroke-width="0.5"/>
<circle cx="583.7" cy="420.5" r="4.9" fill="#f80ae8" stroke="#de00c0" stroke-width="0.5"/>
<circle cx="565.5" cy="477.1" r="4.7" fill="#f80ae8" stroke="#de00c0" stroke-width="0.5"/>
<circle cx="581.6" cy="480.1" r="4.3" fill="#f80ae8" stroke="#de00c0" stroke-width="0.5"/>
<circle cx="621.9" cy="429.8" r="4.6" fill="#f80ae8" stroke="#de00c0" stroke-width="0.5"/>
<circle cx="586.5" cy="437.6" r="4.2" fill="#f80ae8" stroke="#de00c0" stroke-width="0.5"/>
<circle cx="579.1" cy="398.2" r="5.1" fill="#f80ae8" stroke="#de00c0" stroke-width="0.5"/>
<circle cx="589.8" cy="384.8" r="5.2" fill="#f80ae8" stroke="#de00c0" stroke-width="0.5"/>
<circle cx="601.0" cy="372.1" r="5.3" fill="#f80ae8" stroke="#de00c0" stroke-width="0.5"/>
<circle cx="619.6" cy="351.7" r="4.5" fill="#f80ae8" stroke="#de00c0" stroke-width="0.5"/>
<circle cx="640.0" cy="346.1" r="5.1" fill="#f80ae8" stroke="#de00c0" stroke-width="0.5"/>
<circle cx="668.8" cy="342.4" r="4.6" fill="#f80ae8" stroke="#de00c0" stroke-width="0.5"/>
<circle cx="686.1" cy="357.1" r="5.1" fill="#f80ae8" stroke="#de00c0" stroke-width="0.5"/>
<circle cx="688.0" cy="372.1" r="4.1" fill="#f80ae8" stroke="#de00c0" stroke-width="0.5"/>
<circle cx="660.1" cy="378.3" r="5.3" fill="#f80ae8" stroke="#de00c0" stroke-width="0.5"/>
<circle cx="638.0" cy="377.3" r="5.4" fill="#f80ae8" stroke="#de00c0" stroke-width="0.5"/>
<circle cx="621.5" cy="377.0" r="4.7" fill="#f80ae8" stroke="#de00c0" stroke-width="0.5"/>
<circle cx="600.6" cy="386.3" r="4.8" fill="#f80ae8" stroke="#de00c0" stroke-width="0.5"/>
<circle cx="581.3" cy="404.8" r="4.8" fill="#f80ae8" stroke="#de00c0" stroke-width="0.5"/>
<circle cx="684.5" cy="356.4" r="4.2" fill="#f80ae8" stroke="#de00c0" stroke-width="0.5"/>
<circle cx="641.9" cy="375.0" r="4.2" fill="#f80ae8" stroke="#de00c0" stroke-width="0.5"/>
<circle cx="632.8" cy="373.6" r="4.2" fill="#f80ae8" stroke="#de00c0" stroke-width="0.5"/>
<circle cx="623.3" cy="351.0" r="5.3" fill="#f80ae8" stroke="#de00c0" stroke-width="0.5"/>
<circle cx="660.4" cy="352.7" r="5.4" fill="#f80ae8" stroke="#de00c0" stroke-width="0.5"/>
<circle cx="621.4" cy="368.6" r="4.8" fill="#f80ae8" stroke="#de00c0" stroke-width="0.5"/>
<circle cx="663.7" cy="363.5" r="4.5" fill="#f80ae8" stroke="#de00c0" stroke-width="0.5"/>
<circle cx="606.2" cy="368.7" r="4.5" fill="#f80ae8" stroke="#de00c0" stroke-width="0.5"/>
<circle cx="649.0" cy="359.0" r="4.4" fill="#f80ae8" stroke="#de00c0" stroke-width="0.5"/>
<circle cx="646.7" cy="358.0" r="4.7" fill="#f80ae8" stroke="#de00c0" stroke-width="0.5"/>
<circle cx="682.6" cy="360.3" r="5.0" fill="#f80ae8" stroke="#de00c0" stroke-width="0.5"/>
<circle cx="608.3" cy="371.5" r="4.2" fill="#f80ae8" stroke="#de00c0" stroke-width="0.5"/>
<circle cx="611.0" cy="367.8" r="4.4" fill="#f80ae8" stroke="#de00c0" stroke-width="0.5"/>
<circle cx="629.3" cy="376.6" r="4.7" fill="#f80ae8" stroke="#de00c0" stroke-width="0.5"/>
<circle cx="603.2" cy="374.4" r="4.9" fill="#f80ae8" stroke="#de00c0" stroke-width="0.5"/>
<circle cx="673.0" cy="357.3" r="4.7" fill="#f80ae8" stroke="#de00c0" stroke-width="0.5"/>
<circle cx="668.5" cy="374.7" r="5.1" fill="#f80ae8" stroke="#de00c0" stroke-width="0.5"/>
<circle cx="661.8" cy="372.0" r="5.1" fill="#f80ae8" stroke="#de00c0" stroke-width="0.5"/>
<circle cx="641.4" cy="368.5" r="5.3" fill="#f80ae8" stroke="#de00c0" stroke-width="0.5"/>
<circle cx="645.2" cy="366.1" r="4.7" fill="#f80ae8" stroke="#de00c0" stroke-width="0.5"/>
<circle cx="657.8" cy="360.7" r="4.8" fill="#f80ae8" stroke="#de00c0" stroke-width="0.5"/>
<circle cx="620.9" cy="362.5" r="5.3" fill="#f80ae8" stroke="#de00c0" stroke-width="0.5"/>
<circle cx="633.5" cy="370.1" r="4.5" fill="#f80ae8" stroke="#de00c0" stroke-width="0.5"/>
<circle cx="642.4" cy="347.9" r="4.5" fill="#f80ae8" stroke="#de00c0" stroke-width="0.5"/>
<circle cx="683.5" cy="355.2" r="5.4" fill="#f80ae8" stroke="#de00c0" stroke-width="0.5"/>
<circle cx="640.6" cy="373.4" r="5.2" fill="#f80ae8" stroke="#de00c0" stroke-width="0.5"/>
<circle cx="635.4" cy="374.7" r="4.6" fill="#f80ae8" stroke="#de00c0" stroke-width="0.5"/>
<circle cx="684.1" cy="372.8" r="4.9" fill="#f80ae8" stroke="#de00c0" stroke-width="0.5"/>
<circle cx="634.9" cy="349.3" r="5.0" fill="#f80ae8" stroke="#de00c0" stroke-width="0.5"/>
<circle cx="675.8" cy="368.7" r="4.4" fill="#f80ae8" stroke="#de00c0" stroke-width="0.5"/>
<circle cx="634.8" cy="373.9" r="4.3" fill="#f80ae8" stroke="#de00c0" stroke-width="0.5"/>
<circle cx="648.4" cy="345.1" r="5.2" fill="#f80ae8" stroke="#de00c0" stroke-width="0.5"/>
<circle cx="651.8" cy="354.7" r="4.8" fill="#f80ae8" stroke="#de00c0" stroke-width="0.5"/>
<circle cx="608.0" cy="382.7" r="5.5" fill="#f80ae8" stroke="#de00c0" stroke-width="0.5"/>
<circle cx="641.6" cy="368.0" r="4.2" fill="#f80ae8" stroke="#de00c0" stroke-width="0.5"/>
<circle cx="663.0" cy="362.5" r="4.5" fill="#f80ae8" stroke="#de00c0" stroke-width="0.5"/>
<circle cx="642.5" cy="364.2" r="4.6" fill="#f80ae8" stroke="#de00c0" stroke-width="0.5"/>
<circle cx="585.0" cy="397.9" r="5.4" fill="#f80ae8" stroke="#de00c0" stroke-width="0.5"/>
<circle cx="667.9" cy="361.3" r="5.4" fill="#f80ae8" stroke="#de00c0" stroke-width="0.5"/>
<circle cx="657.3" cy="356.2" r="5.3" fill="#f80ae8" stroke="#de00c0" stroke-width="0.5"/>
<circle cx="618.1" cy="354.0" r="4.4" fill="#f80ae8" stroke="#de00c0" stroke-width="0.5"/>
<circle cx="640.2" cy="349.6" r="4.6" fill="#f80ae8" stroke="#de00c0" stroke-width="0.5"/>
<circle cx="592.5" cy="393.9" r="4.4" fill="#f80ae8" stroke="#de00c0" stroke-width="0.5"/>
<circle cx="651.4" cy="363.7" r="5.1" fill="#f80ae8" stroke="#de00c0" stroke-width="0.5"/>
<circle cx="670.0" cy="350.4" r="5.3" fill="#f80ae8" stroke="#de00c0" stroke-width="0.5"/>
<circle cx="666.8" cy="352.3" r="5.1" fill="#f80ae8" stroke="#de00c0" stroke-width="0.5"/>
<circle cx="634.1" cy="356.6" r="4.2" fill="#f80ae8" stroke="#de00c0" stroke-width="0.5"/>
<circle cx="656.0" cy="358.7" r="4.9" fill="#f80ae8" stroke="#de00c0" stroke-width="0.5"/>
<circle cx="619.2" cy="357.8" r="4.3" fill="#f80ae8" stroke="#de00c0" stroke-width="0.5"/>
<circle cx="674.1" cy="350.1" r="4.8" fill="#f80ae8" stroke="#de00c0" stroke-width="0.5"/>
<circle cx="640.9" cy="361.8" r="4.1" fill="#f80ae8" stroke="#de00c0" stroke-width="0.5"/>
<circle cx="618.4" cy="373.6" r="4.1" fill="#f80ae8" stroke="#de00c0" stroke-width="0.5"/>
<circle cx="592.8" cy="387.1" r="4.6" fill="#f80ae8" stroke="#de00c0" stroke-width="0.5"/>
<circle cx="651.4" cy="364.3" r="5.0" fill="#f80ae8" stroke="#de00c0" stroke-width="0.5"/>
<circle cx="655.2" cy="357.9" r="4.5" fill="#f80ae8" stroke="#de00c0" stroke-width="0.5"/>
<circle cx="648.6" cy="353.6" r="4.9" fill="#f80ae8" stroke="#de00c0" stroke-width="0.5"/>
<circle cx="657.1" cy="358.3" r="5.0" fill="#f80ae8" stroke="#de00c0" stroke-width="0.5"/>
<circle cx="591.2" cy="391.8" r="5.4" fill="#f80ae8" stroke="#de00c0" stroke-width="0.5"/>
<circle cx="660.7" cy="347.8" r="4.6" fill="#f80ae8" stroke="#de00c0" stroke-width="0.5"/>
<circle cx="682.2" cy="368.9" r="5.0" fill="#f80ae8" stroke="#de00c0" stroke-width="0.5"/>
<circle cx="625.7" cy="374.3" r="4.2" fill="#f80ae8" stroke="#de00c0" stroke-width="0.5"/>
<circle cx="662.1" cy="345.1" r="5.2" fill="#f80ae8" stroke="#de00c0" stroke-width="0.5"/>
<circle cx="607.5" cy="376.5" r="5.0" fill="#f80ae8" stroke="#de00c0" stroke-width="0.5"/>
<circle cx="623.9" cy="355.0" r="4.2" fill="#f80ae8" stroke="#de00c0" stroke-width="0.5"/>
<circle cx="635.2" cy="370.2" r="4.5" fill="#f80ae8" stroke="#de00c0" stroke-width="0.5"/>
<circle cx="597.5" cy="384.0" r="4.7" fill="#f80ae8" stroke="#de00c0" stroke-width="0.5"/>
<circle cx="600.5" cy="386.2" r="4.2" fill="#f80ae8" stroke="#de00c0" stroke-width="0.5"/>
<circle cx="614.4" cy="371.6" r="4.3" fill="#f80ae8" stroke="#de00c0" stroke-width="0.5"/>
<circle cx="588.2" cy="387.1" r="4.8" fill="#f80ae8" stroke="#de00c0" stroke-width="0.5"/>
<circle cx="626.4" cy="354.3" r="4.0" fill="#f80ae8" stroke="#de00c0" stroke-width="0.5"/>
<circle cx="650.2" cy="358.1" r="4.2" fill="#f80ae8" stroke="#de00c0" stroke-width="0.5"/>
<circle cx="670.5" cy="360.9" r="5.0" fill="#f80ae8" stroke="#de00c0" stroke-width="0.5"/>
<circle cx="669.0" cy="362.4" r="4.8" fill="#f80ae8" stroke="#de00c0" stroke-width="0.5"/>
<circle cx="632.9" cy="373.6" r="4.4" fill="#f80ae8" stroke="#de00c0" stroke-width="0.5"/>
<circle cx="642.4" cy="347.4" r="4.2" fill="#f80ae8" stroke="#de00c0" stroke-width="0.5"/>
<circle cx="626.9" cy="354.3" r="4.0" fill="#f80ae8" stroke="#de00c0" stroke-width="0.5"/>
<circle cx="664.8" cy="368.9" r="5.0" fill="#f80ae8" stroke="#de00c0" stroke-width="0.5"/>
<circle cx="635.1" cy="368.7" r="4.7" fill="#f80ae8" stroke="#de00c0" stroke-width="0.5"/>
<circle cx="677.5" cy="352.7" r="4.7" fill="#f80ae8" stroke="#de00c0" stroke-width="0.5"/>
<circle cx="640.4" cy="364.1" r="4.1" fill="#f80ae8" stroke="#de00c0" stroke-width="0.5"/>
<circle cx="614.3" cy="371.1" r="5.4" fill="#f80ae8" stroke="#de00c0" stroke-width="0.5"/>
<circle cx="667.4" cy="346.2" r="4.9" fill="#f80ae8" stroke="#de00c0" stroke-width="0.5"/>
<circle cx="611.4" cy="378.0" r="4.7" fill="#f80ae8" stroke="#de00c0" stroke-width="0.5"/>
<circle cx="649.6" cy="361.1" r="5.3" fill="#f80ae8" stroke="#de00c0" stroke-width="0.5"/>
<circle cx="624.4" cy="375.5" r="4.6" fill="#f80ae8" stroke="#de00c0" stroke-width="0.5"/>
<circle cx="636.9" cy="358.1" r="4.8" fill="#f80ae8" stroke="#de00c0" stroke-width="0.5"/>
<circle cx="643.2" cy="347.4" r="4.1" fill="#f80ae8" stroke="#de00c0" stroke-width="0.5"/>
<circle cx="661.5" cy="349.6" r="5.1" fill="#f80ae8" stroke="#de00c0" stroke-width="0.5"/>
<circle cx="590.2" cy="394.2" r="4.3" fill="#f80ae8" stroke="#de00c0" stroke-width="0.5"/>
<circle cx="663.5" cy="350.9" r="4.1" fill="#f80ae8" stroke="#de00c0" stroke-width="0.5"/>
<circle cx="656.1" cy="369.0" r="4.9" fill="#f80ae8" stroke="#de00c0" stroke-width="0.5"/>
<circle cx="597.4" cy="388.9" r="5.1" fill="#f80ae8" stroke="#de00c0" stroke-width="0.5"/>
<circle cx="676.4" cy="325.5" r="5.0" fill="#f80ae8" stroke="#de00c0" stroke-width="0.5"/>
<circle cx="679.6" cy="317.6" r="5.2" fill="#f80ae8" stroke="#de00c0" stroke-width="0.5"/>
<circle cx="691.1" cy="312.4" r="4.2" fill="#f80ae8" stroke="#de00c0" stroke-width="0.5"/>
<circle cx="702.1" cy="303.2" r="4.6" fill="#f80ae8" stroke="#de00c0" stroke-width="0.5"/>
<circle cx="707.7" cy="311.9" r="5.1" fill="#f80ae8" stroke="#de00c0" stroke-width="0.5"/>
<circle cx="704.7" cy="317.8" r="5.4" fill="#f80ae8" stroke="#de00c0" stroke-width="0.5"/>
<circle cx="697.5" cy="324.3" r="5.1" fill="#f80ae8" stroke="#de00c0" stroke-width="0.5"/>
<circle cx="705.4" cy="328.6" r="4.1" fill="#f80ae8" stroke="#de00c0" stroke-width="0.5"/>
<circle cx="714.3" cy="332.3" r="4.9" fill="#f80ae8" stroke="#de00c0" stroke-width="0.5"/>
<circle cx="722.4" cy="335.2" r="4.1" fill="#f80ae8" stroke="#de00c0" stroke-width="0.5"/>
<circle cx="734.7" cy="331.4" r="4.8" fill="#f80ae8" stroke="#de00c0" stroke-width="0.5"/>
<circle cx="752.9" cy="329.9" r="5.2" fill="#f80ae8" stroke="#de00c0" stroke-width="0.5"/>
<circle cx="757.7" cy="333.3" r="4.2" fill="#f80ae8" stroke="#de00c0" stroke-width="0.5"/>
<circle cx="746.7" cy="341.2" r="5.4" fill="#f80ae8" stroke="#de00c0" stroke-width="0.5"/>
<circle cx="739.6" cy="347.7" r="5.0" fill="#f80ae8" stroke="#de00c0" stroke-width="0.5"/>
<circle cx="738.6" cy="354.4" r="4.4" fill="#f80ae8" stroke="#de00c0" stroke-width="0.5"/>
<circle cx="729.6" cy="360.8" r="4.3" fill="#f80ae8" stroke="#de00c0" stroke-width="0.5"/>
<circle cx="717.4" cy="358.9" r="4.7" fill="#f80ae8" stroke="#de00c0" stroke-width="0.5"/>
<circle cx="713.3" cy="372.2" r="5.3" fill="#f80ae8" stroke="#de00c0" stroke-width="0.5"/>
<circle cx="704.4" cy="374.8" r="4.9" fill="#f80ae8" stroke="#de00c0" stroke-width="0.5"/>
<circle cx="697.8" cy="367.6" r="4.2" fill="#f80ae8" stroke="#de00c0" stroke-width="0.5"/>
<circle cx="697.3" cy="355.9" r="4.0" fill="#f80ae8" stroke="#de00c0" stroke-width="0.5"/>
<circle cx="689.4" cy="354.1" r="4.2" fill="#f80ae8" stroke="#de00c0" stroke-width="0.5"/>
<circle cx="683.4" cy="344.3" r="5.2" fill="#f80ae8" stroke="#de00c0" stroke-width="0.5"/>
<circle cx="675.5" cy="338.1" r="4.3" fill="#f80ae8" stroke="#de00c0" stroke-width="0.5"/>
<circle cx="719.8" cy="352.5" r="5.4" fill="#f80ae8" stroke="#de00c0" stroke-width="0.5"/>
<circle cx="676.6" cy="327.7" r="4.8" fill="#f80ae8" stroke="#de00c0" stroke-width="0.5"/>
<circle cx="707.8" cy="337.2" r="5.3" fill="#f80ae8" stroke="#de00c0" stroke-width="0.5"/>
<circle cx="707.8" cy="365.7" r="4.1" fill="#f80ae8" stroke="#de00c0" stroke-width="0.5"/>
<circle cx="702.6" cy="318.7" r="4.9" fill="#f80ae8" stroke="#de00c0" stroke-width="0.5"/>
<circle cx="705.2" cy="336.7" r="4.6" fill="#f80ae8" stroke="#de00c0" stroke-width="0.5"/>
<circle cx="677.2" cy="336.1" r="4.1" fill="#f80ae8" stroke="#de00c0" stroke-width="0.5"/>
<circle cx="697.9" cy="322.8" r="4.4" fill="#f80ae8" stroke="#de00c0" stroke-width="0.5"/>
<circle cx="722.3" cy="341.0" r="5.5" fill="#f80ae8" stroke="#de00c0" stroke-width="0.5"/>
<circle cx="739.2" cy="348.5" r="4.5" fill="#f80ae8" stroke="#de00c0" stroke-width="0.5"/>
<circle cx="698.7" cy="360.1" r="5.4" fill="#f80ae8" stroke="#de00c0" stroke-width="0.5"/>
<circle cx="717.3" cy="348.7" r="4.8" fill="#f80ae8" stroke="#de00c0" stroke-width="0.5"/>
<circle cx="694.8" cy="328.2" r="4.0" fill="#f80ae8" stroke="#de00c0" stroke-width="0.5"/>
<circle cx="747.1" cy="335.6" r="4.9" fill="#f80ae8" stroke="#de00c0" stroke-width="0.5"/>
<circle cx="700.9" cy="355.2" r="5.4" fill="#f80ae8" stroke="#de00c0" stroke-width="0.5"/>
<circle cx="703.5" cy="369.1" r="4.1" fill="#f80ae8" stroke="#de00c0" stroke-width="0.5"/>
<circle cx="690.2" cy="344.7" r="4.5" fill="#f80ae8" stroke="#de00c0" stroke-width="0.5"/>
<circle cx="739.2" cy="333.8" r="4.1" fill="#f80ae8" stroke="#de00c0" stroke-width="0.5"/>
<circle cx="697.5" cy="353.6" r="4.6" fill="#f80ae8" stroke="#de00c0" stroke-width="0.5"/>
<circle cx="692.0" cy="346.3" r="5.0" fill="#f80ae8" stroke="#de00c0" stroke-width="0.5"/>
<circle cx="686.7" cy="316.7" r="5.3" fill="#f80ae8" stroke="#de00c0" stroke-width="0.5"/>
<circle cx="692.9" cy="326.6" r="5.0" fill="#f80ae8" stroke="#de00c0" stroke-width="0.5"/>
<circle cx="708.8" cy="351.8" r="4.1" fill="#f80ae8" stroke="#de00c0" stroke-width="0.5"/>
<circle cx="716.1" cy="346.0" r="4.7" fill="#f80ae8" stroke="#de00c0" stroke-width="0.5"/>
<circle cx="710.3" cy="341.7" r="4.8" fill="#f80ae8" stroke="#de00c0" stroke-width="0.5"/>
<circle cx="729.6" cy="346.2" r="5.1" fill="#f80ae8" stroke="#de00c0" stroke-width="0.5"/>
<circle cx="696.7" cy="354.1" r="5.2" fill="#f80ae8" stroke="#de00c0" stroke-width="0.5"/>
<circle cx="700.9" cy="358.5" r="4.7" fill="#f80ae8" stroke="#de00c0" stroke-width="0.5"/>
<circle cx="698.4" cy="340.6" r="4.2" fill="#f80ae8" stroke="#de00c0" stroke-width="0.5"/>
<circle cx="676.2" cy="337.2" r="5.2" fill="#f80ae8" stroke="#de00c0" stroke-width="0.5"/>
<circle cx="705.3" cy="374.0" r="5.1" fill="#f80ae8" stroke="#de00c0" stroke-width="0.5"/>
<circle cx="716.8" cy="342.9" r="5.4" fill="#f80ae8" stroke="#de00c0" stroke-width="0.5"/>
<circle cx="705.6" cy="313.9" r="5.1" fill="#f80ae8" stroke="#de00c0" stroke-width="0.5"/>
<circle cx="716.5" cy="348.7" r="5.2" fill="#f80ae8" stroke="#de00c0" stroke-width="0.5"/>
<circle cx="696.2" cy="322.0" r="4.3" fill="#f80ae8" stroke="#de00c0" stroke-width="0.5"/>
<circle cx="697.5" cy="357.0" r="4.4" fill="#f80ae8" stroke="#de00c0" stroke-width="0.5"/>
<circle cx="702.8" cy="337.9" r="4.2" fill="#f80ae8" stroke="#de00c0" stroke-width="0.5"/>
<circle cx="731.6" cy="346.0" r="4.9" fill="#f80ae8" stroke="#de00c0" stroke-width="0.5"/>
<circle cx="678.6" cy="339.3" r="4.6" fill="#f80ae8" stroke="#de00c0" stroke-width="0.5"/>
<circle cx="729.2" cy="342.1" r="5.0" fill="#f80ae8" stroke="#de00c0" stroke-width="0.5"/>
<circle cx="734.5" cy="331.8" r="4.6" fill="#f80ae8" stroke="#de00c0" stroke-width="0.5"/>
<circle cx="707.2" cy="332.5" r="5.5" fill="#f80ae8" stroke="#de00c0" stroke-width="0.5"/>
<circle cx="702.2" cy="349.4" r="4.5" fill="#f80ae8" stroke="#de00c0" stroke-width="0.5"/>
<circle cx="717.4" cy="345.6" r="4.4" fill="#f80ae8" stroke="#de00c0" stroke-width="0.5"/>
<circle cx="727.3" cy="356.4" r="5.1" fill="#f80ae8" stroke="#de00c0" stroke-width="0.5"/>
<circle cx="707.9" cy="340.9" r="5.0" fill="#f80ae8" stroke="#de00c0" stroke-width="0.5"/>
<circle cx="702.0" cy="348.2" r="4.3" fill="#f80ae8" stroke="#de00c0" stroke-width="0.5"/>
<circle cx="750.2" cy="337.1" r="4.8" fill="#f80ae8" stroke="#de00c0" stroke-width="0.5"/>
<circle cx="719.0" cy="340.7" r="5.2" fill="#f80ae8" stroke="#de00c0" stroke-width="0.5"/>
<circle cx="695.1" cy="315.5" r="4.7" fill="#f80ae8" stroke="#de00c0" stroke-width="0.5"/>
<circle cx="679.1" cy="330.5" r="5.2" fill="#f80ae8" stroke="#de00c0" stroke-width="0.5"/>
<circle cx="696.2" cy="310.5" r="5.2" fill="#f80ae8" stroke="#de00c0" stroke-width="0.5"/>
<circle cx="712.4" cy="337.4" r="5.1" fill="#f80ae8" stroke="#de00c0" stroke-width="0.5"/>
<circle cx="705.7" cy="340.5" r="4.6" fill="#f80ae8" stroke="#de00c0" stroke-width="0.5"/>
<circle cx="698.1" cy="326.4" r="5.3" fill="#f80ae8" stroke="#de00c0" stroke-width="0.5"/>
<circle cx="710.3" cy="359.9" r="4.6" fill="#f80ae8" stroke="#de00c0" stroke-width="0.5"/>
<circle cx="679.1" cy="334.9" r="5.1" fill="#f80ae8" stroke="#de00c0" stroke-width="0.5"/>
<circle cx="699.8" cy="332.4" r="5.2" fill="#f80ae8" stroke="#de00c0" stroke-width="0.5"/>
<circle cx="704.5" cy="330.8" r="5.4" fill="#f80ae8" stroke="#de00c0" stroke-width="0.5"/>
<circle cx="706.7" cy="340.8" r="5.4" fill="#f80ae8" stroke="#de00c0" stroke-width="0.5"/>
<circle cx="724.2" cy="336.3" r="5.3" fill="#f80ae8" stroke="#de00c0" stroke-width="0.5"/>
<circle cx="709.6" cy="337.1" r="4.7" fill="#f80ae8" stroke="#de00c0" stroke-width="0.5"/>
<circle cx="715.9" cy="339.8" r="5.0" fill="#f80ae8" stroke="#de00c0" stroke-width="0.5"/>
<circle cx="721.0" cy="358.2" r="4.2" fill="#f80ae8" stroke="#de00c0" stroke-width="0.5"/>
<circle cx="731.5" cy="354.1" r="4.1" fill="#f80ae8" stroke="#de00c0" stroke-width="0.5"/>
<circle cx="732.3" cy="333.1" r="5.5" fill="#f80ae8" stroke="#de00c0" stroke-width="0.5"/>
<circle cx="687.5" cy="327.1" r="4.0" fill="#f80ae8" stroke="#de00c0" stroke-width="0.5"/>
<circle cx="697.1" cy="325.6" r="5.3" fill="#f80ae8" stroke="#de00c0" stroke-width="0.5"/>
<circle cx="721.2" cy="339.8" r="4.1" fill="#f80ae8" stroke="#de00c0" stroke-width="0.5"/>
<circle cx="700.5" cy="365.2" r="5.3" fill="#f80ae8" stroke="#de00c0" stroke-width="0.5"/>
<circle cx="706.2" cy="336.4" r="4.9" fill="#f80ae8" stroke="#de00c0" stroke-width="0.5"/>
<circle cx="705.6" cy="360.6" r="5.4" fill="#f80ae8" stroke="#de00c0" stroke-width="0.5"/>
<circle cx="701.3" cy="341.3" r="4.8" fill="#f80ae8" stroke="#de00c0" stroke-width="0.5"/>
<circle cx="724.2" cy="335.7" r="4.7" fill="#f80ae8" stroke="#de00c0" stroke-width="0.5"/>
<circle cx="716.5" cy="351.4" r="4.4" fill="#f80ae8" stroke="#de00c0" stroke-width="0.5"/>
<circle cx="753.7" cy="332.9" r="4.4" fill="#f80ae8" stroke="#de00c0" stroke-width="0.5"/>
<circle cx="694.6" cy="344.8" r="4.8" fill="#f80ae8" stroke="#de00c0" stroke-width="0.5"/>
<circle cx="702.2" cy="363.4" r="5.2" fill="#f80ae8" stroke="#de00c0" stroke-width="0.5"/>
<circle cx="678.2" cy="330.4" r="4.3" fill="#f80ae8" stroke="#de00c0" stroke-width="0.5"/>
<circle cx="713.7" cy="355.3" r="5.0" fill="#f80ae8" stroke="#de00c0" stroke-width="0.5"/>
<circle cx="704.1" cy="356.9" r="5.4" fill="#f80ae8" stroke="#de00c0" stroke-width="0.5"/>
<circle cx="683.1" cy="337.9" r="4.9" fill="#f80ae8" stroke="#de00c0" stroke-width="0.5"/>
<circle cx="687.0" cy="322.6" r="5.3" fill="#f80ae8" stroke="#de00c0" stroke-width="0.5"/>
<circle cx="679.6" cy="327.0" r="4.4" fill="#f80ae8" stroke="#de00c0" stroke-width="0.5"/>
<circle cx="683.4" cy="342.7" r="4.9" fill="#f80ae8" stroke="#de00c0" stroke-width="0.5"/>
<circle cx="706.3" cy="350.7" r="4.3" fill="#f80ae8" stroke="#de00c0" stroke-width="0.5"/>
<circle cx="213.6" cy="264.4" r="3.5" fill="#f40cf0" stroke="#b800b8" stroke-width="0.9"/>
<circle cx="215.6" cy="261.3" r="3.5" fill="#f40cf0" stroke="#b800b8" stroke-width="0.9"/>
<circle cx="210.5" cy="260.3" r="3.5" fill="#f40cf0" stroke="#b800b8" stroke-width="0.9"/>
<circle cx="214.0" cy="267.0" r="3.5" fill="#f40cf0" stroke="#b800b8" stroke-width="0.9"/>
<circle cx="284.4" cy="259.7" r="5.0" fill="#f40cf0" stroke="#b800b8" stroke-width="0.9"/>
<circle cx="291.5" cy="281.8" r="5.0" fill="#f40cf0" stroke="#b800b8" stroke-width="0.9"/>
<circle cx="298.7" cy="293.1" r="5.0" fill="#f40cf0" stroke="#b800b8" stroke-width="0.9"/>
<circle cx="299.7" cy="297.2" r="5.0" fill="#f40cf0" stroke="#b800b8" stroke-width="0.9"/>
<circle cx="268.5" cy="302.3" r="5.0" fill="#f40cf0" stroke="#b800b8" stroke-width="0.9"/>
<circle cx="310.5" cy="312.6" r="5.0" fill="#f40cf0" stroke="#b800b8" stroke-width="0.9"/>
<circle cx="385.9" cy="318.7" r="5.0" fill="#f40cf0" stroke="#b800b8" stroke-width="0.9"/>
<circle cx="365.4" cy="255.1" r="5.0" fill="#f40cf0" stroke="#b800b8" stroke-width="0.9"/>
<circle cx="373.6" cy="262.3" r="5.0" fill="#f40cf0" stroke="#b800b8" stroke-width="0.9"/>
<circle cx="424.8" cy="343.1" r="5.0" fill="#f40cf0" stroke="#b800b8" stroke-width="0.9"/>
<circle cx="445.6" cy="372.5" r="5.0" fill="#f40cf0" stroke="#b800b8" stroke-width="0.9"/>
<circle cx="439.5" cy="388.4" r="5.0" fill="#f40cf0" stroke="#b800b8" stroke-width="0.9"/>
<circle cx="454.2" cy="386.0" r="5.0" fill="#f40cf0" stroke="#b800b8" stroke-width="0.9"/>
<circle cx="459.1" cy="386.0" r="5.0" fill="#f40cf0" stroke="#b800b8" stroke-width="0.9"/>
<circle cx="455.4" cy="404.3" r="5.0" fill="#f40cf0" stroke="#b800b8" stroke-width="0.9"/>
<circle cx="462.8" cy="400.7" r="5.0" fill="#f40cf0" stroke="#b800b8" stroke-width="0.9"/>
<circle cx="473.8" cy="397.0" r="5.0" fill="#f40cf0" stroke="#b800b8" stroke-width="0.9"/>
<circle cx="467.7" cy="406.8" r="5.0" fill="#f40cf0" stroke="#b800b8" stroke-width="0.9"/>
<circle cx="471.3" cy="416.6" r="5.0" fill="#f40cf0" stroke="#b800b8" stroke-width="0.9"/>
<circle cx="464.0" cy="411.7" r="5.0" fill="#f40cf0" stroke="#b800b8" stroke-width="0.9"/>
<circle cx="457.9" cy="426.4" r="5.0" fill="#f40cf0" stroke="#b800b8" stroke-width="0.9"/>
<circle cx="445.6" cy="439.9" r="5.0" fill="#f40cf0" stroke="#b800b8" stroke-width="0.9"/>
<circle cx="462.8" cy="448.4" r="5.0" fill="#f40cf0" stroke="#b800b8" stroke-width="0.9"/>
<circle cx="454.2" cy="410.5" r="5.0" fill="#f40cf0" stroke="#b800b8" stroke-width="0.9"/>
<circle cx="468.0" cy="398.0" r="5.0" fill="#f40cf0" stroke="#b800b8" stroke-width="0.9"/>
<circle cx="460.0" cy="405.0" r="5.0" fill="#f40cf0" stroke="#b800b8" stroke-width="0.9"/>
<circle cx="543.6" cy="261.0" r="5.0" fill="#f40cf0" stroke="#b800b8" stroke-width="0.9"/>
<circle cx="552.2" cy="259.8" r="5.0" fill="#f40cf0" stroke="#b800b8" stroke-width="0.9"/>
<circle cx="566.9" cy="259.8" r="5.0" fill="#f40cf0" stroke="#b800b8" stroke-width="0.9"/>
<circle cx="571.8" cy="261.0" r="5.0" fill="#f40cf0" stroke="#b800b8" stroke-width="0.9"/>
<circle cx="542.4" cy="277.0" r="5.0" fill="#f40cf0" stroke="#b800b8" stroke-width="0.9"/>
<circle cx="541.2" cy="285.5" r="5.0" fill="#f40cf0" stroke="#b800b8" stroke-width="0.9"/>
<circle cx="542.4" cy="295.3" r="5.0" fill="#f40cf0" stroke="#b800b8" stroke-width="0.9"/>
<circle cx="547.3" cy="333.3" r="5.0" fill="#f40cf0" stroke="#b800b8" stroke-width="0.9"/>
<circle cx="542.4" cy="368.8" r="5.0" fill="#f40cf0" stroke="#b800b8" stroke-width="0.9"/>
<circle cx="551.0" cy="368.8" r="5.0" fill="#f40cf0" stroke="#b800b8" stroke-width="0.9"/>
<circle cx="558.0" cy="262.0" r="5.0" fill="#f40cf0" stroke="#b800b8" stroke-width="0.9"/>
<circle cx="541.0" cy="270.0" r="5.0" fill="#f40cf0" stroke="#b800b8" stroke-width="0.9"/>
<circle cx="542.0" cy="290.0" r="5.0" fill="#f40cf0" stroke="#b800b8" stroke-width="0.9"/>
<circle cx="675.5" cy="374.5" r="5.0" fill="#f40cf0" stroke="#b800b8" stroke-width="0.9"/>
<circle cx="689.0" cy="374.5" r="5.0" fill="#f40cf0" stroke="#b800b8" stroke-width="0.9"/>
<circle cx="655.9" cy="395.3" r="5.0" fill="#f40cf0" stroke="#b800b8" stroke-width="0.9"/>
<circle cx="675.5" cy="395.3" r="5.0" fill="#f40cf0" stroke="#b800b8" stroke-width="0.9"/>
<circle cx="646.0" cy="391.4" r="5.0" fill="#f40cf0" stroke="#b800b8" stroke-width="0.9"/>
<circle cx="725.7" cy="388.0" r="5.0" fill="#f40cf0" stroke="#b800b8" stroke-width="0.9"/>
<circle cx="730.6" cy="388.0" r="5.0" fill="#f40cf0" stroke="#b800b8" stroke-width="0.9"/>
<circle cx="772.2" cy="346.3" r="5.0" fill="#f40cf0" stroke="#b800b8" stroke-width="0.9"/>
<circle cx="812.8" cy="374.6" r="5.0" fill="#f40cf0" stroke="#b800b8" stroke-width="0.9"/>
<circle cx="646.4" cy="255.9" r="5.0" fill="#f40cf0" stroke="#b800b8" stroke-width="0.9"/>
<circle cx="637.7" cy="267.5" r="5.0" fill="#f40cf0" stroke="#b800b8" stroke-width="0.9"/>
<circle cx="655.2" cy="396.3" r="5.0" fill="#f40cf0" stroke="#b800b8" stroke-width="0.9"/>
<circle cx="643.0" cy="386.0" r="5.0" fill="#f40cf0" stroke="#b800b8" stroke-width="0.9"/>
<circle cx="903.4" cy="260.0" r="5.0" fill="#f40cf0" stroke="#b800b8" stroke-width="0.9"/>
<circle cx="879.5" cy="266.7" r="5.0" fill="#f40cf0" stroke="#b800b8" stroke-width="0.9"/>
<circle cx="876.7" cy="270.0" r="5.0" fill="#f40cf0" stroke="#b800b8" stroke-width="0.9"/>
<circle cx="889.5" cy="286.7" r="5.0" fill="#f40cf0" stroke="#b800b8" stroke-width="0.9"/>
<circle cx="906.8" cy="274.5" r="5.0" fill="#f40cf0" stroke="#b800b8" stroke-width="0.9"/>
<circle cx="909.0" cy="279.0" r="5.0" fill="#f40cf0" stroke="#b800b8" stroke-width="0.9"/>
<circle cx="904.5" cy="271.2" r="5.0" fill="#f40cf0" stroke="#b800b8" stroke-width="0.9"/>
<circle cx="922.4" cy="266.7" r="5.0" fill="#f40cf0" stroke="#b800b8" stroke-width="0.9"/>
<circle cx="922.9" cy="278.4" r="5.0" fill="#f40cf0" stroke="#b800b8" stroke-width="0.9"/>
<circle cx="913.5" cy="291.2" r="5.0" fill="#f40cf0" stroke="#b800b8" stroke-width="0.9"/>
<circle cx="923.5" cy="294.5" r="5.0" fill="#f40cf0" stroke="#b800b8" stroke-width="0.9"/>
<circle cx="938.0" cy="336.9" r="5.0" fill="#f40cf0" stroke="#b800b8" stroke-width="0.9"/>
<circle cx="901.0" cy="280.0" r="5.0" fill="#f40cf0" stroke="#b800b8" stroke-width="0.9"/>
<circle cx="910.0" cy="268.0" r="5.0" fill="#f40cf0" stroke="#b800b8" stroke-width="0.9"/>
<circle cx="1035.5" cy="284.1" r="5.0" fill="#f40cf0" stroke="#b800b8" stroke-width="0.9"/>
<circle cx="1180.3" cy="262.3" r="5.0" fill="#f40cf0" stroke="#b800b8" stroke-width="0.9"/>
<circle cx="1266.5" cy="261.6" r="5.0" fill="#f40cf0" stroke="#b800b8" stroke-width="0.9"/>
<circle cx="1648.8" cy="252.2" r="5.0" fill="#f40cf0" stroke="#b800b8" stroke-width="0.9"/>
<circle cx="1645.7" cy="261.7" r="5.0" fill="#f40cf0" stroke="#b800b8" stroke-width="0.9"/>
<circle cx="1651.0" cy="257.5" r="5.0" fill="#f40cf0" stroke="#b800b8" stroke-width="0.9"/>
<circle cx="1647.0" cy="256.0" r="5.0" fill="#f40cf0" stroke="#b800b8" stroke-width="0.9"/>
<circle cx="1689.0" cy="256.4" r="5.0" fill="#f40cf0" stroke="#b800b8" stroke-width="0.9"/>
<circle cx="1702.8" cy="261.7" r="5.0" fill="#f40cf0" stroke="#b800b8" stroke-width="0.9"/>
<circle cx="1757.8" cy="255.4" r="5.0" fill="#f40cf0" stroke="#b800b8" stroke-width="0.9"/>
<circle cx="1765.2" cy="253.3" r="5.0" fill="#f40cf0" stroke="#b800b8" stroke-width="0.9"/>
<circle cx="1771.5" cy="248.0" r="5.0" fill="#f40cf0" stroke="#b800b8" stroke-width="0.9"/>
<circle cx="1767.3" cy="250.1" r="5.0" fill="#f40cf0" stroke="#b800b8" stroke-width="0.9"/>
<circle cx="1762.0" cy="254.3" r="5.0" fill="#f40cf0" stroke="#b800b8" stroke-width="0.9"/>
<circle cx="1769.0" cy="249.0" r="5.0" fill="#f40cf0" stroke="#b800b8" stroke-width="0.9"/>
<circle cx="319.4" cy="278.3" r="1.8" fill="#e0104a" opacity="0.9"/>
<circle cx="587.8" cy="445.4" r="2.3" fill="#e0104a" opacity="0.9"/>
<circle cx="607.0" cy="402.1" r="2.6" fill="#e0104a" opacity="0.9"/>
<circle cx="606.2" cy="416.1" r="2.0" fill="#e0104a" opacity="0.9"/>
<circle cx="588.2" cy="458.9" r="2.7" fill="#e0104a" opacity="0.9"/>
<circle cx="597.5" cy="457.3" r="2.0" fill="#e0104a" opacity="0.9"/>
<circle cx="589.8" cy="464.9" r="2.7" fill="#e0104a" opacity="0.9"/>
<circle cx="537.7" cy="427.3" r="2.1" fill="#e0104a" opacity="0.9"/>
<circle cx="581.2" cy="451.7" r="2.3" fill="#e0104a" opacity="0.9"/>
<circle cx="607.5" cy="423.8" r="2.4" fill="#e0104a" opacity="0.9"/>
<circle cx="632.6" cy="415.8" r="2.2" fill="#e0104a" opacity="0.9"/>
<circle cx="613.0" cy="417.8" r="1.8" fill="#e0104a" opacity="0.9"/>
<circle cx="591.3" cy="468.7" r="2.8" fill="#e0104a" opacity="0.9"/>
<circle cx="577.6" cy="444.0" r="2.6" fill="#e0104a" opacity="0.9"/>
<circle cx="602.8" cy="424.3" r="1.8" fill="#e0104a" opacity="0.9"/>
<circle cx="553.2" cy="458.3" r="1.8" fill="#e0104a" opacity="0.9"/>
<circle cx="630.9" cy="407.6" r="1.9" fill="#e0104a" opacity="0.9"/>
<circle cx="550.9" cy="431.9" r="2.3" fill="#e0104a" opacity="0.9"/>
<circle cx="575.0" cy="489.0" r="2.6" fill="#e0104a" opacity="0.9"/>
<circle cx="582.5" cy="482.7" r="2.7" fill="#e0104a" opacity="0.9"/>
<circle cx="626.2" cy="406.0" r="2.7" fill="#e0104a" opacity="0.9"/>
<circle cx="601.4" cy="474.7" r="2.2" fill="#e0104a" opacity="0.9"/>
<circle cx="586.2" cy="408.0" r="3.0" fill="#e0104a" opacity="0.9"/>
<circle cx="566.6" cy="445.0" r="1.8" fill="#e0104a" opacity="0.9"/>
<circle cx="640.1" cy="415.3" r="2.1" fill="#e0104a" opacity="0.9"/>
<circle cx="593.6" cy="413.3" r="2.7" fill="#e0104a" opacity="0.9"/>
<circle cx="573.8" cy="465.1" r="2.8" fill="#e0104a" opacity="0.9"/>
<circle cx="655.2" cy="354.6" r="2.5" fill="#e0104a" opacity="0.9"/>
<circle cx="626.2" cy="373.9" r="2.0" fill="#e0104a" opacity="0.9"/>
<circle cx="674.0" cy="369.8" r="2.3" fill="#e0104a" opacity="0.9"/>
<circle cx="652.8" cy="375.2" r="2.2" fill="#e0104a" opacity="0.9"/>
<circle cx="661.8" cy="349.1" r="2.0" fill="#e0104a" opacity="0.9"/>
<circle cx="647.6" cy="353.7" r="2.9" fill="#e0104a" opacity="0.9"/>
<circle cx="612.1" cy="366.2" r="2.2" fill="#e0104a" opacity="0.9"/>
<circle cx="647.5" cy="370.6" r="2.6" fill="#e0104a" opacity="0.9"/>
<circle cx="638.3" cy="358.0" r="2.2" fill="#e0104a" opacity="0.9"/>
<circle cx="618.3" cy="355.3" r="2.1" fill="#e0104a" opacity="0.9"/>
<circle cx="653.0" cy="370.3" r="2.6" fill="#e0104a" opacity="0.9"/>
<circle cx="603.7" cy="378.1" r="2.4" fill="#e0104a" opacity="0.9"/>
<circle cx="700.4" cy="315.3" r="2.2" fill="#e0104a" opacity="0.9"/>
<circle cx="698.2" cy="321.6" r="2.0" fill="#e0104a" opacity="0.9"/>
<circle cx="689.4" cy="352.1" r="2.2" fill="#e0104a" opacity="0.9"/>
<circle cx="736.2" cy="339.0" r="2.2" fill="#e0104a" opacity="0.9"/>
<circle cx="690.1" cy="322.1" r="1.9" fill="#e0104a" opacity="0.9"/>
<circle cx="695.3" cy="317.4" r="2.8" fill="#e0104a" opacity="0.9"/>
<circle cx="718.4" cy="335.6" r="2.3" fill="#e0104a" opacity="0.9"/>
<circle cx="703.5" cy="330.5" r="2.0" fill="#e0104a" opacity="0.9"/>
<circle cx="736.4" cy="331.9" r="2.6" fill="#e0104a" opacity="0.9"/>
<circle cx="696.6" cy="317.6" r="2.4" fill="#e0104a" opacity="0.9"/>
<circle cx="711.2" cy="348.9" r="2.8" fill="#e0104a" opacity="0.9"/>
<circle cx="208.0" cy="257.2" r="2.4" fill="#b80e30"/>
<circle cx="216.7" cy="258.7" r="2.4" fill="#b80e30"/>
<circle cx="223.3" cy="268.5" r="2.4" fill="#b80e30"/>
<circle cx="214.1" cy="277.2" r="2.4" fill="#b80e30"/>
<circle cx="224.4" cy="279.7" r="2.4" fill="#b80e30"/>
<circle cx="211.0" cy="284.4" r="2.4" fill="#b80e30"/>
<circle cx="215.0" cy="266.4" r="2.4" fill="#b80e30"/>
<circle cx="213.0" cy="279.0" r="2.4" fill="#b80e30"/>
<circle cx="289.0" cy="270.0" r="2.4" fill="#b80e30"/>
<circle cx="297.7" cy="270.0" r="2.4" fill="#b80e30"/>
<circle cx="303.3" cy="262.8" r="2.4" fill="#b80e30"/>
<circle cx="351.5" cy="272.6" r="2.4" fill="#b80e30"/>
<circle cx="336.7" cy="295.6" r="2.4" fill="#b80e30"/>
<circle cx="323.3" cy="302.8" r="2.4" fill="#b80e30"/>
<circle cx="310.5" cy="300.8" r="2.4" fill="#b80e30"/>
<circle cx="313.0" cy="300.5" r="2.4" fill="#b80e30"/>
<circle cx="337.7" cy="286.9" r="2.4" fill="#b80e30"/>
<circle cx="340.8" cy="282.3" r="2.4" fill="#b80e30"/>
<circle cx="334.0" cy="279.0" r="2.4" fill="#b80e30"/>
<circle cx="338.0" cy="290.0" r="2.4" fill="#b80e30"/>
<circle cx="428.5" cy="373.7" r="2.2" fill="#b80e30"/>
<circle cx="437.0" cy="399.4" r="2.2" fill="#b80e30"/>
<circle cx="426.0" cy="419.0" r="2.2" fill="#b80e30"/>
<circle cx="433.4" cy="420.3" r="2.2" fill="#b80e30"/>
<circle cx="454.2" cy="401.9" r="2.2" fill="#b80e30"/>
<circle cx="443.0" cy="440.0" r="2.2" fill="#b80e30"/>
<circle cx="578.0" cy="256.0" r="2.2" fill="#b80e30"/>
<circle cx="555.9" cy="373.7" r="2.2" fill="#b80e30"/>
<circle cx="866.7" cy="257.8" r="2.4" fill="#b80e30"/>
<circle cx="884.5" cy="261.1" r="2.4" fill="#b80e30"/>
<circle cx="869.5" cy="282.9" r="2.4" fill="#b80e30"/>
<circle cx="897.9" cy="272.3" r="2.4" fill="#b80e30"/>
<circle cx="894.5" cy="278.4" r="2.4" fill="#b80e30"/>
<circle cx="898.4" cy="304.6" r="2.4" fill="#b80e30"/>
<circle cx="927.9" cy="264.5" r="2.4" fill="#b80e30"/>
<circle cx="911.2" cy="261.1" r="2.4" fill="#b80e30"/>
<line x1="93" y1="310.7" x2="2021" y2="310.7" stroke="#c2c2c2" stroke-width="1.5" stroke-dasharray="4.2,2.7" opacity="0.9"/>
<line x1="93" y1="465.2" x2="2021" y2="465.2" stroke="#c2c2c2" stroke-width="1.5" stroke-dasharray="4.2,2.7" opacity="0.9"/>
<line x1="93" y1="615.3" x2="2021" y2="615.3" stroke="#c2c2c2" stroke-width="1.5" stroke-dasharray="4.2,2.7" opacity="0.9"/>
<polygon points="427.3,258.7 511.5,258.7 511.5,369.4 427.3,369.4" fill="none" stroke="#111" stroke-width="2.9" stroke-dasharray="9.5,7.3,2.7,7.5" />
<polygon points="544.2,254.8 584.0,254.8 584.0,289.9 544.2,289.9" fill="none" stroke="#111" stroke-width="2.9" stroke-dasharray="9.5,7.3,2.7,7.5" />
<polygon points="730.4,258.8 853.4,258.0 627.6,478.8 494.5,478.8" fill="none" stroke="#111" stroke-width="2.9" stroke-dasharray="9.5,7.3,2.7,7.5" />
<polygon points="894.3,256.7 933.5,256.7 933.5,298.4 894.3,298.4" fill="none" stroke="#111" stroke-width="2.9" stroke-dasharray="9.5,7.3,2.7,7.5" />
<polygon points="1473.3,260.0 1749.3,260.0 1749.3,399.0 1676.0,399.0 1676.0,360.0 1583.0,360.0 1583.0,296.6 1473.3,296.6" fill="none" stroke="#111" stroke-width="2.9" stroke-dasharray="9.5,7.3,2.7,7.5" />
<text x="478.6" y="325.0" font-size="20.35" font-weight="bold" fill="#111" text-anchor="middle" textLength="59.3" lengthAdjust="spacingAndGlyphs" stroke="#111" stroke-width="0.5" filter="url(#tshadow)">Mined</text>
<text x="690.5" y="351.4" font-size="20.35" font-weight="bold" fill="#1a0010" text-anchor="middle" textLength="59.0" lengthAdjust="spacingAndGlyphs" stroke="#1a0010" stroke-width="0.5" filter="url(#tshadow)">Mined</text>
<text x="1624.5" y="319.9" font-size="19.91" font-weight="bold" fill="#111" text-anchor="middle" textLength="61.4" lengthAdjust="spacingAndGlyphs" stroke="#111" stroke-width="0.5" filter="url(#tshadow)">Mined</text>
<rect x="440.3" y="236" width="7.8" height="131.0" fill="#5b5b5b" stroke="#2a2a2a" stroke-width="1"/>
<rect x="557.6" y="236" width="7.8" height="52.0" fill="#5b5b5b" stroke="#2a2a2a" stroke-width="1"/>
<rect x="778.1" y="236" width="7.8" height="159.0" fill="#5b5b5b" stroke="#2a2a2a" stroke-width="1"/>
<rect x="913.1" y="236" width="7.8" height="65.0" fill="#5b5b5b" stroke="#2a2a2a" stroke-width="1"/>
<rect x="1491.1" y="236" width="7.8" height="60.0" fill="#5b5b5b" stroke="#2a2a2a" stroke-width="1"/>
<rect x="1656.1" y="236" width="7.8" height="122.0" fill="#5b5b5b" stroke="#2a2a2a" stroke-width="1"/>
<rect x="1729.6" y="236" width="7.8" height="162.0" fill="#5b5b5b" stroke="#2a2a2a" stroke-width="1"/>
<rect x="637.3" y="345.6" width="7.8" height="142.7" fill="#5b5b5b" stroke="#2a2a2a" stroke-width="1"/>
<rect x="641" y="361.5" width="141" height="3.2" fill="#555"/>
<path d="M437.59999999999997,228 H447.0 V234 H445.8 L457.2,253 H434.5 V245 H437.2 V238 H439.59999999999997 V234 H437.59999999999997 Z" fill="#3c3c3c" stroke="#111" stroke-width="1"/>
<rect x="439.2" y="229.5" width="6" height="2.5" fill="#777"/>
<rect x="442.2" y="234" width="3" height="19" fill="#6a6a6a"/>
<rect x="446.2" y="242" width="6" height="2" fill="#777"/>
<rect x="446.2" y="247" width="8" height="3" fill="#777"/>
<path d="M554.9,228 H564.3 V234 H563.1 L574.5,253 H551.8 V245 H554.5 V238 H556.9 V234 H554.9 Z" fill="#3c3c3c" stroke="#111" stroke-width="1"/>
<rect x="556.5" y="229.5" width="6" height="2.5" fill="#777"/>
<rect x="559.5" y="234" width="3" height="19" fill="#6a6a6a"/>
<rect x="563.5" y="242" width="6" height="2" fill="#777"/>
<rect x="563.5" y="247" width="8" height="3" fill="#777"/>
<path d="M775.4,228 H784.8 V234 H783.6 L795,253 H772.3 V245 H775 V238 H777.4 V234 H775.4 Z" fill="#3c3c3c" stroke="#111" stroke-width="1"/>
<rect x="777" y="229.5" width="6" height="2.5" fill="#777"/>
<rect x="780" y="234" width="3" height="19" fill="#6a6a6a"/>
<rect x="784" y="242" width="6" height="2" fill="#777"/>
<rect x="784" y="247" width="8" height="3" fill="#777"/>
<path d="M910.4,228 H919.8 V234 H918.6 L930,253 H907.3 V245 H910 V238 H912.4 V234 H910.4 Z" fill="#3c3c3c" stroke="#111" stroke-width="1"/>
<rect x="912" y="229.5" width="6" height="2.5" fill="#777"/>
<rect x="915" y="234" width="3" height="19" fill="#6a6a6a"/>
<rect x="919" y="242" width="6" height="2" fill="#777"/>
<rect x="919" y="247" width="8" height="3" fill="#777"/>
<path d="M1488.4,228 H1497.8 V234 H1496.6 L1508,253 H1485.3 V245 H1488 V238 H1490.4 V234 H1488.4 Z" fill="#3c3c3c" stroke="#111" stroke-width="1"/>
<rect x="1490" y="229.5" width="6" height="2.5" fill="#777"/>
<rect x="1493" y="234" width="3" height="19" fill="#6a6a6a"/>
<rect x="1497" y="242" width="6" height="2" fill="#777"/>
<rect x="1497" y="247" width="8" height="3" fill="#777"/>
<path d="M1653.4,228 H1662.8 V234 H1661.6 L1673,253 H1650.3 V245 H1653 V238 H1655.4 V234 H1653.4 Z" fill="#3c3c3c" stroke="#111" stroke-width="1"/>
<rect x="1655" y="229.5" width="6" height="2.5" fill="#777"/>
<rect x="1658" y="234" width="3" height="19" fill="#6a6a6a"/>
<rect x="1662" y="242" width="6" height="2" fill="#777"/>
<rect x="1662" y="247" width="8" height="3" fill="#777"/>
<path d="M1726.9,228 H1736.3 V234 H1735.1 L1746.5,253 H1723.8 V245 H1726.5 V238 H1728.9 V234 H1726.9 Z" fill="#3c3c3c" stroke="#111" stroke-width="1"/>
<rect x="1728.5" y="229.5" width="6" height="2.5" fill="#777"/>
<rect x="1731.5" y="234" width="3" height="19" fill="#6a6a6a"/>
<rect x="1735.5" y="242" width="6" height="2" fill="#777"/>
<rect x="1735.5" y="247" width="8" height="3" fill="#777"/>
<g transform="translate(261.7,204.0) rotate(-30.5)">
<rect x="-42.4" y="-11.9" width="84.8" height="23.8" rx="3" fill="#fff" stroke="#64d8b6" stroke-width="3" filter="url(#glow)"/>
<text x="0" y="5.8" font-size="16.5" font-weight="bold" fill="#111" stroke="#111" stroke-width="0.15" text-anchor="middle" textLength="55.0" lengthAdjust="spacingAndGlyphs">Colline</text>
</g>
<g transform="translate(388.8,193.5) rotate(-30.5)">
<rect x="-62.9" y="-13.0" width="125.7" height="26" rx="3" fill="url(#dark)" filter="url(#glow)"/>
<text x="0" y="5.8" font-size="17" font-weight="bold" fill="#f0fbf6" stroke="#f0fbf6" stroke-width="0.35" text-anchor="middle" textLength="101.0" lengthAdjust="spacingAndGlyphs">Golden Eye</text>
</g>
<g transform="translate(499.2,194.1) rotate(-30.5)">
<rect x="-60.6" y="-11.9" width="121.3" height="23.8" rx="3" fill="#fff" stroke="#64d8b6" stroke-width="3" filter="url(#glow)"/>
<text x="0" y="5.8" font-size="16.5" font-weight="bold" fill="#111" stroke="#111" stroke-width="0.15" text-anchor="middle" textLength="82.0" lengthAdjust="spacingAndGlyphs">Cedar Bay</text>
</g>
<g transform="translate(617.4,194.1) rotate(-30.5)">
<rect x="-60.8" y="-11.9" width="121.6" height="23.8" rx="3" fill="#fff" stroke="#64d8b6" stroke-width="3" filter="url(#glow)"/>
<text x="0" y="5.8" font-size="16.5" font-weight="bold" fill="#111" stroke="#111" stroke-width="0.15" text-anchor="middle" textLength="97.0" lengthAdjust="spacingAndGlyphs">Copper Cliff</text>
</g>
<g transform="translate(847.5,190.1) rotate(-30.5)">
<rect x="-69.9" y="-11.9" width="139.8" height="23.8" rx="3" fill="#fff" stroke="#64d8b6" stroke-width="3" filter="url(#glow)"/>
<text x="0" y="5.8" font-size="16.5" font-weight="bold" fill="#111" stroke="#111" stroke-width="0.15" text-anchor="middle" textLength="107.0" lengthAdjust="spacingAndGlyphs">Copper Rand</text>
</g>
<g transform="translate(957.8,208.9) rotate(-30.5)">
<rect x="-40.6" y="-11.9" width="81.2" height="23.8" rx="3" fill="#fff" stroke="#64d8b6" stroke-width="3" filter="url(#glow)"/>
<text x="0" y="5.8" font-size="16.5" font-weight="bold" fill="#111" stroke="#111" stroke-width="0.15" text-anchor="middle" textLength="59.0" lengthAdjust="spacingAndGlyphs">Jaculet</text>
</g>
<g transform="translate(1561.8,186.3) rotate(-30.5)">
<rect x="-72.6" y="-11.9" width="145.1" height="23.8" rx="3" fill="#fff" stroke="#64d8b6" stroke-width="3" filter="url(#glow)"/>
<text x="0" y="5.8" font-size="16.5" font-weight="bold" fill="#111" stroke="#111" stroke-width="0.15" text-anchor="middle" textLength="99.0" lengthAdjust="spacingAndGlyphs">Henderson I</text>
</g>
<g transform="translate(1724.0,184.6) rotate(-30.5)">
<rect x="-71.6" y="-11.9" width="143.1" height="23.8" rx="3" fill="#fff" stroke="#64d8b6" stroke-width="3" filter="url(#glow)"/>
<text x="0" y="5.8" font-size="16.5" font-weight="bold" fill="#111" stroke="#111" stroke-width="0.15" text-anchor="middle" textLength="105.0" lengthAdjust="spacingAndGlyphs">Henderson II</text>
</g>
<g transform="translate(1778.5,202.6) rotate(-30.5)">
<rect x="-45.2" y="-11.4" width="90.5" height="22.8" rx="3" fill="#fff" stroke="#64d8b6" stroke-width="3" filter="url(#glow)"/>
<text x="0" y="5.8" font-size="16.5" font-weight="bold" fill="#111" stroke="#111" stroke-width="0.15" text-anchor="middle" textLength="68.0" lengthAdjust="spacingAndGlyphs">Portage</text>
</g>
<path d="M206.5,222 L215.5,228.5 L224.5,222 L224.5,231 L215.5,237.5 L206.5,231 Z" fill="#27323c"/>
<path d="M206.5,232.5 L215.5,239.0 L224.5,232.5 L224.5,241.5 L215.5,248.0 L206.5,241.5 Z" fill="#27323c"/>
<path d="M315,222 L324.0,228.5 L333,222 L333,231 L324.0,237.5 L315,231 Z" fill="#27323c"/>
<path d="M315,232.5 L324.0,239.0 L333,232.5 L333,241.5 L324.0,248.0 L315,241.5 Z" fill="#27323c"/>
<path d="M209.7,305.1 H221.7 V336.2 H228.5 L215.45,348.2 L202.4,336.2 H209.7 Z" fill="#f24a42" stroke="#a8302a" stroke-width="1" />
<path d="M311.3,324.1 H323.7 V354.2 H330.3 L317.25,366.2 L304.2,354.2 H311.3 Z" fill="#f24a42" stroke="#a8302a" stroke-width="1" />
<path d="M556.7,302.4 H570 V332 H576 L563.2,345.2 L550.4,332 H556.7 Z" fill="#f24a42" stroke="#a8302a" stroke-width="1" />
<path d="M905.3,324 H918.8 V353.5 H924.9 L912.05,367 L899.2,353.5 H905.3 Z" fill="#f24a42" stroke="#a8302a" stroke-width="1" />
<path d="M445.1,465.5 H458.1 V495 H463.9 L451.0,508.1 L438.1,495 H445.1 Z" fill="#f24a42" stroke="#a8302a" stroke-width="1" />
<g transform="translate(525.3,502.6) rotate(39)">
<path d="M-6.3,0 H6.3 V30 H13 L0.0,43 L-13,30 H-6.3 Z" fill="#f24a42" stroke="#a8302a" stroke-width="1" />
</g>
<g transform="translate(586.7,513.9) rotate(41)">
<path d="M-6.3,0 H6.3 V30 H13 L0.0,43 L-13,30 H-6.3 Z" fill="#f24a42" stroke="#a8302a" stroke-width="1" />
</g>
<path d="M1165.3,289.9 H1195.9 V284.1 L1208.4,296.65 L1195.9,309.2 V302.9 H1165.3 Z" fill="#f24a42" stroke="#a8302a" stroke-width="1"/>
<path d="M1453.3,287.4 H1422.7 V280.4 L1410.2,292.9 L1422.7,305.4 V299.1 H1453.3 Z" fill="#f24a42" stroke="#a8302a" stroke-width="1"/>
<path d="M1782.7,287.9 H1812.8 V281.6 L1825.3,294.15 L1812.8,306.7 V300.4 H1782.7 Z" fill="#f24a42" stroke="#a8302a" stroke-width="1"/>
<text x="0" y="6.0" font-size="17.4" font-weight="bold" fill="#111" stroke="#111" stroke-width="0.25" text-anchor="middle" textLength="43.1" lengthAdjust="spacingAndGlyphs" transform="translate(216.7,378.75) rotate(90)">OPEN</text>
<text x="0" y="6.0" font-size="17.4" font-weight="bold" fill="#111" stroke="#111" stroke-width="0.25" text-anchor="middle" textLength="44.0" lengthAdjust="spacingAndGlyphs" transform="translate(318.3,397.3) rotate(90)">OPEN</text>
<text x="0" y="6.0" font-size="17.4" font-weight="bold" fill="#111" stroke="#111" stroke-width="0.25" text-anchor="middle" textLength="44.8" lengthAdjust="spacingAndGlyphs" transform="translate(565.4,375.29999999999995) rotate(90)">OPEN</text>
<text x="0" y="6.0" font-size="17.4" font-weight="bold" fill="#111" stroke="#111" stroke-width="0.25" text-anchor="middle" textLength="44.1" lengthAdjust="spacingAndGlyphs" transform="translate(912.7,397.65) rotate(90)">OPEN</text>
<text x="0" y="6.0" font-size="17.4" font-weight="bold" fill="#111" stroke="#111" stroke-width="0.25" text-anchor="middle" textLength="45.1" lengthAdjust="spacingAndGlyphs" transform="translate(453.1,538.95) rotate(90)">OPEN</text>
<text x="0" y="5.8" font-size="16.7" font-weight="bold" fill="#111" stroke="#111" stroke-width="0.25" text-anchor="middle" textLength="42" lengthAdjust="spacingAndGlyphs" transform="translate(482.7,560.9) rotate(-48)">OPEN</text>
<text x="0" y="5.8" font-size="16.7" font-weight="bold" fill="#111" stroke="#111" stroke-width="0.25" text-anchor="middle" textLength="42" lengthAdjust="spacingAndGlyphs" transform="translate(543.5,571.5) rotate(-48)">OPEN</text>
<text x="1238.7" y="302.4" font-size="17.44" font-weight="bold" fill="#111" text-anchor="middle" textLength="44.6" lengthAdjust="spacingAndGlyphs" stroke="#111" stroke-width="0.4">OPEN</text>
<text x="1379.5" y="300.4" font-size="17.44" font-weight="bold" fill="#111" text-anchor="middle" textLength="43.8" lengthAdjust="spacingAndGlyphs" stroke="#111" stroke-width="0.4">OPEN</text>
<text x="1856.2" y="298.4" font-size="17.44" font-weight="bold" fill="#111" text-anchor="middle" textLength="44.4" lengthAdjust="spacingAndGlyphs" stroke="#111" stroke-width="0.4">OPEN</text>
<text x="1216.8" y="197.2" font-size="23.26" font-weight="bold" fill="#111" text-anchor="middle" textLength="86.7" lengthAdjust="spacingAndGlyphs" stroke="#111" stroke-width="0.4" filter="url(#tshadow)">Minimal</text>
<text x="1216.2" y="227.3" font-size="23.26" font-weight="bold" fill="#111" text-anchor="middle" textLength="120.1" lengthAdjust="spacingAndGlyphs" stroke="#111" stroke-width="0.4" filter="url(#tshadow)">Exploration</text>
<text x="1906.8" y="200.0" font-size="23.26" font-weight="bold" fill="#111" text-anchor="middle" textLength="85.2" lengthAdjust="spacingAndGlyphs" stroke="#111" stroke-width="0.4" filter="url(#tshadow)">Minimal</text>
<text x="1906.2" y="230.2" font-size="23.26" font-weight="bold" fill="#111" text-anchor="middle" textLength="119.1" lengthAdjust="spacingAndGlyphs" stroke="#111" stroke-width="0.4" filter="url(#tshadow)">Exploration</text>
<g filter="url(#glow)">
<rect x="964.7" y="236.9" width="505.5" height="4.6" fill="#000"/>
<path d="M1483.2,239.2 L1468.2,232.2 L1468.2,246.2 Z" fill="#000"/>
<path d="M951.7,239.2 L966.7,232.2 L966.7,246.2 Z" fill="#000"/>
</g>
<g filter="url(#glow)">
<rect x="1773.2" y="236.7" width="217.1" height="4.6" fill="#000"/>
<path d="M2003.3,239 L1988.3,232 L1988.3,246 Z" fill="#000"/>
<path d="M1760.2,239 L1775.2,232 L1775.2,246 Z" fill="#000"/>
</g>
<g filter="url(#glow)">
<rect x="987.4" y="537.5" width="1004.0" height="4.6" fill="#000"/>
<path d="M2004.4,539.8 L1989.4,532.8 L1989.4,546.8 Z" fill="#000"/>
<path d="M974.4,539.8 L989.4,532.8 L989.4,546.8 Z" fill="#000"/>
</g>
<line x1="132.8" y1="482.5" x2="186.7" y2="283.8" stroke="#1a1a1a" stroke-width="1.3"/>
<path d="M186.7,283.8 L187.7,292.4 L181.5,290.7 Z" fill="#111"/>
<line x1="260.6" y1="657" x2="302" y2="303.8" stroke="#1a1a1a" stroke-width="1.3"/>
<path d="M302.0,303.8 L304.2,312.1 L297.9,311.4 Z" fill="#111"/>
<line x1="537.8" y1="657" x2="458.1" y2="431.6" stroke="#1a1a1a" stroke-width="1.3"/>
<path d="M458.1,431.6 L463.8,438.1 L457.7,440.2 Z" fill="#111"/>
<line x1="804.1" y1="657" x2="636.8" y2="415.3" stroke="#1a1a1a" stroke-width="1.3"/>
<path d="M636.8,415.3 L644.0,420.1 L638.7,423.7 Z" fill="#111"/>
<line x1="1073" y1="657" x2="920" y2="303.3" stroke="#1a1a1a" stroke-width="1.3"/>
<path d="M920.0,303.3 L926.1,309.4 L920.2,311.9 Z" fill="#111"/>
<rect x="7.5" y="483.5" width="250.1" height="159.4" rx="22" fill="#fff" stroke="#62d6b4" stroke-width="3" filter="url(#shadow)"/>
<text x="132.5" y="511.1" font-size="23.11" font-weight="bold" fill="#111" text-anchor="middle" textLength="208.5" lengthAdjust="spacingAndGlyphs" stroke="#111" stroke-width="0.4">11.1m @ 4.4% CuEq</text>
<text x="132.5" y="541.3" font-size="23.11" font-weight="bold" fill="#111" text-anchor="middle" textLength="208.5" lengthAdjust="spacingAndGlyphs" stroke="#111" stroke-width="0.4">14.9m @ 2.9% CuEq</text>
<text x="132.5" y="571.5" font-size="23.11" font-weight="bold" fill="#111" text-anchor="middle" textLength="195.9" lengthAdjust="spacingAndGlyphs" stroke="#111" stroke-width="0.4">9.1m @ 3.5% CuEq</text>
<text x="132.5" y="601.7" font-size="23.11" font-weight="bold" fill="#111" text-anchor="middle" textLength="195.9" lengthAdjust="spacingAndGlyphs" stroke="#111" stroke-width="0.4">6.1m @ 3.2% CuEq</text>
<text x="132.5" y="631.9" font-size="23.11" font-weight="bold" fill="#111" text-anchor="middle" textLength="174.5" lengthAdjust="spacingAndGlyphs" stroke="#111" stroke-width="0.4">8.6 @ 2.3% CuEq</text>
<rect x="119.4" y="656.7" width="280.7" height="223.3" rx="28" fill="url(#dark)" filter="url(#shadow)"/>
<text x="259.6" y="684.8" font-size="23.11" font-weight="bold" fill="#f2fbf7" text-anchor="middle" textLength="212.5" lengthAdjust="spacingAndGlyphs" stroke="#f2fbf7" stroke-width="0.4">7.4m @ 5.7g/t AuEq</text>
<text x="259.6" y="715.5" font-size="23.11" font-weight="bold" fill="#f2fbf7" text-anchor="middle" textLength="224.7" lengthAdjust="spacingAndGlyphs" stroke="#f2fbf7" stroke-width="0.4">2.9m @ 10.2g/t AuEq</text>
<text x="259.6" y="746.3" font-size="23.11" font-weight="bold" fill="#f2fbf7" text-anchor="middle" textLength="224.7" lengthAdjust="spacingAndGlyphs" stroke="#f2fbf7" stroke-width="0.4">5.9m @ 34.1g/t AuEq</text>
<text x="259.6" y="777.0" font-size="23.11" font-weight="bold" fill="#f2fbf7" text-anchor="middle" textLength="224.7" lengthAdjust="spacingAndGlyphs" stroke="#f2fbf7" stroke-width="0.4">8.4m @ 12.7g/t AuEq</text>
<text x="259.6" y="807.8" font-size="23.11" font-weight="bold" fill="#f2fbf7" text-anchor="middle" textLength="224.7" lengthAdjust="spacingAndGlyphs" stroke="#f2fbf7" stroke-width="0.4">7.5m @ 22.1g/t AuEq</text>
<text x="259.6" y="838.5" font-size="23.11" font-weight="bold" fill="#f2fbf7" text-anchor="middle" textLength="224.7" lengthAdjust="spacingAndGlyphs" stroke="#f2fbf7" stroke-width="0.4">4.5m @ 21.6g/t AuEq</text>
<text x="259.6" y="869.3" font-size="23.11" font-weight="bold" fill="#f2fbf7" text-anchor="middle" textLength="235.3" lengthAdjust="spacingAndGlyphs" stroke="#f2fbf7" stroke-width="0.4">10.4m @ 12.2g/t AuEq</text>
<rect x="411.7" y="657.7" width="252.2" height="101.3" rx="22" fill="#fff" stroke="#62d6b4" stroke-width="3" filter="url(#shadow)"/>
<text x="538.6" y="686.3" font-size="23.11" font-weight="bold" fill="#111" text-anchor="middle" textLength="209.3" lengthAdjust="spacingAndGlyphs" stroke="#111" stroke-width="0.4">15.5m @ 8.4% CuEq</text>
<text x="538.6" y="716.5" font-size="23.11" font-weight="bold" fill="#111" text-anchor="middle" textLength="210.0" lengthAdjust="spacingAndGlyphs" stroke="#111" stroke-width="0.4">4.3m @ 15.1% CuEq</text>
<text x="538.6" y="746.6" font-size="23.11" font-weight="bold" fill="#111" text-anchor="middle" textLength="210.0" lengthAdjust="spacingAndGlyphs" stroke="#111" stroke-width="0.4">3.4m @ 16.8% CuEq</text>
<rect x="672.9" y="657.4" width="262.4" height="128.3" rx="24" fill="#fff" stroke="#62d6b4" stroke-width="3" filter="url(#shadow)"/>
<text x="804.0" y="683.8" font-size="23.11" font-weight="bold" fill="#111" text-anchor="middle" textLength="209.2" lengthAdjust="spacingAndGlyphs" stroke="#111" stroke-width="0.4">47.4m @ 7.2% CuEq</text>
<text x="804.0" y="714.0" font-size="23.11" font-weight="bold" fill="#111" text-anchor="middle" textLength="209.2" lengthAdjust="spacingAndGlyphs" stroke="#111" stroke-width="0.4">34.1m @ 9.1% CuEq</text>
<text x="804.0" y="744.3" font-size="23.11" font-weight="bold" fill="#111" text-anchor="middle" textLength="209.2" lengthAdjust="spacingAndGlyphs" stroke="#111" stroke-width="0.4">51.7m @ 5.5% CuEq</text>
<text x="804.0" y="775.3" font-size="23.11" font-weight="bold" fill="#111" text-anchor="middle" textLength="221.3" lengthAdjust="spacingAndGlyphs" stroke="#111" stroke-width="0.4">18.3m @ 12.2% CuEq</text>
<rect x="947.0" y="657.7" width="252.1" height="101.3" rx="22" fill="#fff" stroke="#62d6b4" stroke-width="3" filter="url(#shadow)"/>
<text x="1073.5" y="686.3" font-size="23.11" font-weight="bold" fill="#111" text-anchor="middle" textLength="210.5" lengthAdjust="spacingAndGlyphs" stroke="#111" stroke-width="0.4">25.3m @ 4.9% CuEq</text>
<text x="1073.5" y="716.5" font-size="23.11" font-weight="bold" fill="#111" text-anchor="middle" textLength="210.5" lengthAdjust="spacingAndGlyphs" stroke="#111" stroke-width="0.4">24.4m @ 2.9% CuEq</text>
<text x="1073.5" y="746.6" font-size="23.11" font-weight="bold" fill="#111" text-anchor="middle" textLength="210.5" lengthAdjust="spacingAndGlyphs" stroke="#111" stroke-width="0.4">22.9m @ 3.1% CuEq</text>
<rect x="1384.9" y="546.7" width="239.2" height="32.2" rx="6" fill="#fff" stroke="#62d6b4" stroke-width="3" filter="url(#shadow)"/>
<text x="1504.4" y="570.1" font-size="22.97" font-weight="bold" fill="#111" text-anchor="middle" textLength="212.3" lengthAdjust="spacingAndGlyphs" stroke="#111" stroke-width="0.5">Data to be compiled</text>
<defs><linearGradient id="logo" x1="0" y1="0" x2="1" y2="0"><stop offset="0" stop-color="#1a6a58"/><stop offset="1" stop-color="#0e3c34"/></linearGradient></defs>
<rect x="1808" y="560" width="183" height="62" fill="#fff"/>
<defs><linearGradient id="logoS" gradientUnits="userSpaceOnUse" x1="1829" y1="0" x2="1987" y2="0"><stop offset="0" stop-color="#1c6a55"/><stop offset="1" stop-color="#0f3d36"/></linearGradient></defs>
<path d="M1852.5,574.5 A11.2,11.2 0 1 0 1852.5,592.5" stroke="url(#logoS)" stroke-width="5.2" fill="none"/>
<path d="M1856.5,571.5 L1867.2,585 L1878,571.5 M1867.2,584 V597.4" stroke="url(#logoS)" stroke-width="5.2" fill="none"/>
<path d="M1905.5,575.5 A11.2,11.2 0 1 0 1905.2,590.5 V583.8 H1891" stroke="url(#logoS)" stroke-width="5.2" fill="none"/>
<path d="M1914.4,569.5 H1920.6 L1930.2,586 V569.5 H1935.6 V597.4 H1929.4 L1919.8,581 V597.4 H1914.4 Z" fill="url(#logoS)"/>
<path d="M1946,569.5 V587 A7.5,7.5 0 0 0 1961,587 V569.5" stroke="url(#logoS)" stroke-width="5.2" fill="none"/>
<path d="M1984.5,574.5 C1982,571 1972.5,570.5 1971.5,576.5 C1970.5,582 1986,582 1985.5,589 C1985,596 1973,596.5 1970.5,592" stroke="url(#logoS)" stroke-width="5.2" fill="none"/>
<rect x="1826" y="582.8" width="6" height="1.6" fill="#fff"/>
<rect x="1880" y="582.8" width="6" height="1.6" fill="#fff"/>
<rect x="1952.8" y="590" width="1.5" height="9" fill="#fff"/>
<text x="1837.8" y="618.6" font-size="19.33" font-weight="normal" fill="#17584a" text-anchor="middle" textLength="16.3" lengthAdjust="spacingAndGlyphs" stroke="#17584a" stroke-width="0.5">M</text>
<text x="1867.6" y="618.6" font-size="19.33" font-weight="normal" fill="#17584a" text-anchor="middle" textLength="10.3" lengthAdjust="spacingAndGlyphs" stroke="#17584a" stroke-width="0.5">E</text>
<text x="1895.0" y="618.6" font-size="19.33" font-weight="normal" fill="#17584a" text-anchor="middle" textLength="12.0" lengthAdjust="spacingAndGlyphs" stroke="#17584a" stroke-width="0.5">T</text>
<text x="1925.3" y="618.6" font-size="19.33" font-weight="normal" fill="#17584a" text-anchor="middle" textLength="13.3" lengthAdjust="spacingAndGlyphs" stroke="#17584a" stroke-width="0.5">A</text>
<text x="1953.5" y="618.6" font-size="19.33" font-weight="normal" fill="#17584a" text-anchor="middle" textLength="9.0" lengthAdjust="spacingAndGlyphs" stroke="#17584a" stroke-width="0.5">L</text>
<text x="1980.7" y="618.6" font-size="19.33" font-weight="normal" fill="#17584a" text-anchor="middle" textLength="12.6" lengthAdjust="spacingAndGlyphs" stroke="#17584a" stroke-width="0.5">S</text>
<rect x="1805.2" y="629.4" width="209.3" height="190.7" rx="9" fill="#fff" stroke="#5a5a5a" stroke-width="1.5"/>
<text x="1913.7" y="648.5" font-size="14.53" font-weight="bold" fill="#111" text-anchor="middle" textLength="55.4" lengthAdjust="spacingAndGlyphs" >LEGEND</text>
<rect x="1819" y="658.5" width="26.5" height="25.5" fill="#fcbebe" stroke="#111" stroke-width="2.6" stroke-dasharray="7,3,2,3"/>
<text x="1906.2" y="675.0" font-size="13.95" font-weight="bold" fill="#111" text-anchor="middle" textLength="77.7" lengthAdjust="spacingAndGlyphs" >Mined Areas</text>
<text x="1904.3" y="701.8" font-size="13.95" font-weight="bold" fill="#111" text-anchor="middle" textLength="74.1" lengthAdjust="spacingAndGlyphs" >Assays CuEq</text>
<circle cx="1833.2" cy="722.1" r="9.2" fill="#ffff00" stroke="#333" stroke-width="1"/>
<text x="1892.7" y="728.7" font-size="13.95" font-weight="bold" fill="#111" text-anchor="middle" textLength="50.7" lengthAdjust="spacingAndGlyphs" >0.5 – 1%</text>
<circle cx="1833.2" cy="750.9" r="9.2" fill="#ee0000" stroke="#333" stroke-width="1"/>
<text x="1888.6" y="755.6" font-size="13.95" font-weight="bold" fill="#111" text-anchor="middle" textLength="42.6" lengthAdjust="spacingAndGlyphs" >1 – 2 %</text>
<circle cx="1833.2" cy="777.8" r="9.2" fill="#e060ee" stroke="#333" stroke-width="1"/>
<text x="1879.6" y="782.5" font-size="13.95" font-weight="bold" fill="#111" text-anchor="middle" textLength="24.6" lengthAdjust="spacingAndGlyphs" >&gt;3%</text>
<rect x="1818.2" y="796.5" width="30.9" height="17" rx="1.5" fill="#1e4540" filter="url(#glow)"/>
<text x="1938.0" y="809.3" font-size="14.24" font-weight="bold" fill="#111" text-anchor="middle" textLength="141.4" lengthAdjust="spacingAndGlyphs" >Significant Intersection</text>
<rect x="1627.6" y="806.3" width="75.4" height="6.9" fill="#000"/>
<rect x="1703" y="806.8" width="75.3" height="6" fill="#fff" stroke="#000" stroke-width="1"/>
<text x="1627.6" y="797.0" font-size="9.00" font-weight="normal" fill="#333" text-anchor="middle" >0</text>
<text x="1703.0" y="797.0" font-size="9.00" font-weight="normal" fill="#333" text-anchor="middle" >500</text>
<text x="1783.0" y="797.0" font-size="9.00" font-weight="normal" fill="#333" text-anchor="middle" >1,000 m</text>
</svg></body></html>
